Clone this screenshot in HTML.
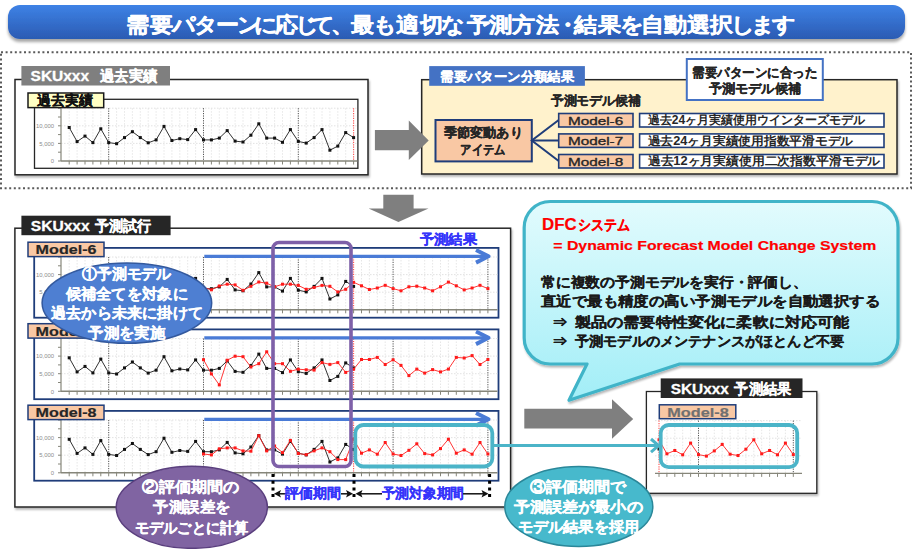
<!DOCTYPE html>
<html lang="ja"><head><meta charset="utf-8"><title>DFC</title>
<style>
html,body{margin:0;padding:0;background:#fff;}
body{width:920px;height:549px;overflow:hidden;font-family:"Liberation Sans",sans-serif;}
svg{display:block;font-family:"Liberation Sans",sans-serif;}
</style></head><body>
<svg width="920" height="549" viewBox="0 0 920 549">
<defs>
<linearGradient id="gTitle" x1="0" y1="0" x2="0" y2="1">
<stop offset="0" stop-color="#3E82E6"/><stop offset="1" stop-color="#2B5BB3"/></linearGradient>
<linearGradient id="gBub" x1="0" y1="0" x2="0" y2="1">
<stop offset="0" stop-color="#E2FBFD"/><stop offset="1" stop-color="#A2EEF7"/></linearGradient>
<filter id="sh" x="-10%" y="-10%" width="130%" height="140%">
<feGaussianBlur in="SourceAlpha" stdDeviation="1"/><feOffset dx="1.2" dy="1.5" result="o"/>
<feComponentTransfer><feFuncA type="linear" slope="0.3"/></feComponentTransfer>
<feMerge><feMergeNode/><feMergeNode in="SourceGraphic"/></feMerge></filter>
<filter id="sh2" x="-10%" y="-20%" width="120%" height="160%">
<feGaussianBlur in="SourceAlpha" stdDeviation="1.5"/><feOffset dx="0" dy="2.5" result="o"/>
<feComponentTransfer><feFuncA type="linear" slope="0.35"/></feComponentTransfer>
<feMerge><feMergeNode/><feMergeNode in="SourceGraphic"/></feMerge></filter>
</defs>

<rect x="8" y="5" width="897" height="34" rx="12" fill="url(#gTitle)" filter="url(#sh2)"/>
<text x="124.64 146.55 167.64 187.64 207.27 226.18 242.27 260.73 279.27 294.09 311.82 330.00 350.00 370.82 392.27 412.27 434.91 455.27 476.36 498.18 516.09 532.36 554.09 574.36 593.27 614.36 635.09 656.36 675.27 693.45 713.09" y="31.9" font-size="21" fill="#fff" font-weight="bold" text-anchor="middle" stroke="#fff" stroke-width="0.38" stroke-linejoin="round" transform="scale(1.1,1)">需要パターンに応じて、最も適切な予測方法・結果を自動選択します</text>
<rect x="1" y="52.2" width="910" height="136" fill="none" stroke="#5a5a5a" stroke-width="2" stroke-dasharray="2 2.6"/>
<rect x="15" y="79.5" width="353" height="95.3" fill="#fff" stroke="#262626" stroke-width="1.5" filter="url(#sh)"/>
<rect x="21.4" y="66" width="148.6" height="19.5" fill="#7F7F7F"/>
<text x="30.6" y="80.9" font-size="14.5" fill="#fff" font-weight="bold" stroke="#fff" stroke-width="0.30" stroke-linejoin="round" textLength="58.5" lengthAdjust="spacingAndGlyphs" >SKUxxx</text>
<text x="99.7" y="80.9" font-size="14.5" fill="#fff" font-weight="bold" stroke="#fff" stroke-width="0.29" stroke-linejoin="round" textLength="57.7" lengthAdjust="spacingAndGlyphs" >過去実績</text>
<rect x="34.5" y="99.3" width="323.4" height="69" fill="#fff" stroke="#262626" stroke-width="1.3"/>
<line x1="61.0" y1="143.4" x2="357.5" y2="143.4" stroke="#dadada" stroke-width="0.8" stroke-dasharray="1.5 1.5"/>
<line x1="61.0" y1="125.8" x2="357.5" y2="125.8" stroke="#dadada" stroke-width="0.8" stroke-dasharray="1.5 1.5"/>
<line x1="61.0" y1="108.2" x2="357.5" y2="108.2" stroke="#dadada" stroke-width="0.8" stroke-dasharray="1.5 1.5"/>
<line x1="69.2" y1="108.2" x2="69.2" y2="161.0" stroke="#e0e0e0" stroke-width="0.8" stroke-dasharray="1.5 1.5"/>
<line x1="77.1" y1="108.2" x2="77.1" y2="161.0" stroke="#e0e0e0" stroke-width="0.8" stroke-dasharray="1.5 1.5"/>
<line x1="85.0" y1="108.2" x2="85.0" y2="161.0" stroke="#e0e0e0" stroke-width="0.8" stroke-dasharray="1.5 1.5"/>
<line x1="92.9" y1="108.2" x2="92.9" y2="161.0" stroke="#e0e0e0" stroke-width="0.8" stroke-dasharray="1.5 1.5"/>
<line x1="100.8" y1="108.2" x2="100.8" y2="161.0" stroke="#e0e0e0" stroke-width="0.8" stroke-dasharray="1.5 1.5"/>
<line x1="108.7" y1="108.2" x2="108.7" y2="161.0" stroke="#404040" stroke-width="0.9" stroke-dasharray="1.2 1.2"/>
<line x1="116.6" y1="108.2" x2="116.6" y2="161.0" stroke="#e0e0e0" stroke-width="0.8" stroke-dasharray="1.5 1.5"/>
<line x1="124.5" y1="108.2" x2="124.5" y2="161.0" stroke="#e0e0e0" stroke-width="0.8" stroke-dasharray="1.5 1.5"/>
<line x1="132.4" y1="108.2" x2="132.4" y2="161.0" stroke="#e0e0e0" stroke-width="0.8" stroke-dasharray="1.5 1.5"/>
<line x1="140.3" y1="108.2" x2="140.3" y2="161.0" stroke="#e0e0e0" stroke-width="0.8" stroke-dasharray="1.5 1.5"/>
<line x1="148.2" y1="108.2" x2="148.2" y2="161.0" stroke="#e0e0e0" stroke-width="0.8" stroke-dasharray="1.5 1.5"/>
<line x1="156.1" y1="108.2" x2="156.1" y2="161.0" stroke="#e0e0e0" stroke-width="0.8" stroke-dasharray="1.5 1.5"/>
<line x1="164.0" y1="108.2" x2="164.0" y2="161.0" stroke="#e0e0e0" stroke-width="0.8" stroke-dasharray="1.5 1.5"/>
<line x1="171.9" y1="108.2" x2="171.9" y2="161.0" stroke="#e0e0e0" stroke-width="0.8" stroke-dasharray="1.5 1.5"/>
<line x1="179.8" y1="108.2" x2="179.8" y2="161.0" stroke="#e0e0e0" stroke-width="0.8" stroke-dasharray="1.5 1.5"/>
<line x1="187.7" y1="108.2" x2="187.7" y2="161.0" stroke="#e0e0e0" stroke-width="0.8" stroke-dasharray="1.5 1.5"/>
<line x1="195.6" y1="108.2" x2="195.6" y2="161.0" stroke="#e0e0e0" stroke-width="0.8" stroke-dasharray="1.5 1.5"/>
<line x1="203.5" y1="108.2" x2="203.5" y2="161.0" stroke="#404040" stroke-width="0.9" stroke-dasharray="1.2 1.2"/>
<line x1="211.4" y1="108.2" x2="211.4" y2="161.0" stroke="#e0e0e0" stroke-width="0.8" stroke-dasharray="1.5 1.5"/>
<line x1="219.3" y1="108.2" x2="219.3" y2="161.0" stroke="#e0e0e0" stroke-width="0.8" stroke-dasharray="1.5 1.5"/>
<line x1="227.2" y1="108.2" x2="227.2" y2="161.0" stroke="#e0e0e0" stroke-width="0.8" stroke-dasharray="1.5 1.5"/>
<line x1="235.1" y1="108.2" x2="235.1" y2="161.0" stroke="#e0e0e0" stroke-width="0.8" stroke-dasharray="1.5 1.5"/>
<line x1="243.0" y1="108.2" x2="243.0" y2="161.0" stroke="#e0e0e0" stroke-width="0.8" stroke-dasharray="1.5 1.5"/>
<line x1="250.9" y1="108.2" x2="250.9" y2="161.0" stroke="#e0e0e0" stroke-width="0.8" stroke-dasharray="1.5 1.5"/>
<line x1="258.8" y1="108.2" x2="258.8" y2="161.0" stroke="#e0e0e0" stroke-width="0.8" stroke-dasharray="1.5 1.5"/>
<line x1="266.7" y1="108.2" x2="266.7" y2="161.0" stroke="#e0e0e0" stroke-width="0.8" stroke-dasharray="1.5 1.5"/>
<line x1="274.6" y1="108.2" x2="274.6" y2="161.0" stroke="#e0e0e0" stroke-width="0.8" stroke-dasharray="1.5 1.5"/>
<line x1="282.5" y1="108.2" x2="282.5" y2="161.0" stroke="#e0e0e0" stroke-width="0.8" stroke-dasharray="1.5 1.5"/>
<line x1="290.4" y1="108.2" x2="290.4" y2="161.0" stroke="#e0e0e0" stroke-width="0.8" stroke-dasharray="1.5 1.5"/>
<line x1="298.3" y1="108.2" x2="298.3" y2="161.0" stroke="#404040" stroke-width="0.9" stroke-dasharray="1.2 1.2"/>
<line x1="306.2" y1="108.2" x2="306.2" y2="161.0" stroke="#e0e0e0" stroke-width="0.8" stroke-dasharray="1.5 1.5"/>
<line x1="314.1" y1="108.2" x2="314.1" y2="161.0" stroke="#e0e0e0" stroke-width="0.8" stroke-dasharray="1.5 1.5"/>
<line x1="322.0" y1="108.2" x2="322.0" y2="161.0" stroke="#e0e0e0" stroke-width="0.8" stroke-dasharray="1.5 1.5"/>
<line x1="329.9" y1="108.2" x2="329.9" y2="161.0" stroke="#e0e0e0" stroke-width="0.8" stroke-dasharray="1.5 1.5"/>
<line x1="337.8" y1="108.2" x2="337.8" y2="161.0" stroke="#e0e0e0" stroke-width="0.8" stroke-dasharray="1.5 1.5"/>
<line x1="345.7" y1="108.2" x2="345.7" y2="161.0" stroke="#e0e0e0" stroke-width="0.8" stroke-dasharray="1.5 1.5"/>
<line x1="353.6" y1="108.2" x2="353.6" y2="161.0" stroke="#ff5050" stroke-width="1.1" stroke-dasharray="1.2 1.2"/>
<line x1="61" y1="108.2" x2="61" y2="161.0" stroke="#86867a" stroke-width="1.2"/>
<line x1="58" y1="161.0" x2="61" y2="161.0" stroke="#86867a" stroke-width="1"/>
<line x1="58" y1="152.2" x2="61" y2="152.2" stroke="#86867a" stroke-width="1"/>
<line x1="58" y1="143.4" x2="61" y2="143.4" stroke="#86867a" stroke-width="1"/>
<line x1="58" y1="134.6" x2="61" y2="134.6" stroke="#86867a" stroke-width="1"/>
<line x1="58" y1="125.8" x2="61" y2="125.8" stroke="#86867a" stroke-width="1"/>
<line x1="58" y1="117.0" x2="61" y2="117.0" stroke="#86867a" stroke-width="1"/>
<line x1="58" y1="108.2" x2="61" y2="108.2" stroke="#86867a" stroke-width="1"/>
<text x="54" y="163.2" font-size="5.9" fill="#8c8c8c" text-anchor="end" font-weight="normal">0</text>
<text x="54" y="145.6" font-size="5.9" fill="#8c8c8c" text-anchor="end" font-weight="normal">5,000</text>
<text x="54" y="128.0" font-size="5.9" fill="#8c8c8c" text-anchor="end" font-weight="normal">10,000</text>
<line x1="61.0" y1="161.0" x2="357.5" y2="161.0" stroke="#86867a" stroke-width="1.4"/>
<line x1="69.2" y1="161.0" x2="69.2" y2="164.5" stroke="#86867a" stroke-width="1"/>
<line x1="77.1" y1="161.0" x2="77.1" y2="164.5" stroke="#86867a" stroke-width="1"/>
<line x1="85.0" y1="161.0" x2="85.0" y2="164.5" stroke="#86867a" stroke-width="1"/>
<line x1="92.9" y1="161.0" x2="92.9" y2="164.5" stroke="#86867a" stroke-width="1"/>
<line x1="100.8" y1="161.0" x2="100.8" y2="164.5" stroke="#86867a" stroke-width="1"/>
<line x1="108.7" y1="161.0" x2="108.7" y2="164.5" stroke="#86867a" stroke-width="1"/>
<line x1="116.6" y1="161.0" x2="116.6" y2="164.5" stroke="#86867a" stroke-width="1"/>
<line x1="124.5" y1="161.0" x2="124.5" y2="164.5" stroke="#86867a" stroke-width="1"/>
<line x1="132.4" y1="161.0" x2="132.4" y2="164.5" stroke="#86867a" stroke-width="1"/>
<line x1="140.3" y1="161.0" x2="140.3" y2="164.5" stroke="#86867a" stroke-width="1"/>
<line x1="148.2" y1="161.0" x2="148.2" y2="164.5" stroke="#86867a" stroke-width="1"/>
<line x1="156.1" y1="161.0" x2="156.1" y2="164.5" stroke="#86867a" stroke-width="1"/>
<line x1="164.0" y1="161.0" x2="164.0" y2="164.5" stroke="#86867a" stroke-width="1"/>
<line x1="171.9" y1="161.0" x2="171.9" y2="164.5" stroke="#86867a" stroke-width="1"/>
<line x1="179.8" y1="161.0" x2="179.8" y2="164.5" stroke="#86867a" stroke-width="1"/>
<line x1="187.7" y1="161.0" x2="187.7" y2="164.5" stroke="#86867a" stroke-width="1"/>
<line x1="195.6" y1="161.0" x2="195.6" y2="164.5" stroke="#86867a" stroke-width="1"/>
<line x1="203.5" y1="161.0" x2="203.5" y2="164.5" stroke="#86867a" stroke-width="1"/>
<line x1="211.4" y1="161.0" x2="211.4" y2="164.5" stroke="#86867a" stroke-width="1"/>
<line x1="219.3" y1="161.0" x2="219.3" y2="164.5" stroke="#86867a" stroke-width="1"/>
<line x1="227.2" y1="161.0" x2="227.2" y2="164.5" stroke="#86867a" stroke-width="1"/>
<line x1="235.1" y1="161.0" x2="235.1" y2="164.5" stroke="#86867a" stroke-width="1"/>
<line x1="243.0" y1="161.0" x2="243.0" y2="164.5" stroke="#86867a" stroke-width="1"/>
<line x1="250.9" y1="161.0" x2="250.9" y2="164.5" stroke="#86867a" stroke-width="1"/>
<line x1="258.8" y1="161.0" x2="258.8" y2="164.5" stroke="#86867a" stroke-width="1"/>
<line x1="266.7" y1="161.0" x2="266.7" y2="164.5" stroke="#86867a" stroke-width="1"/>
<line x1="274.6" y1="161.0" x2="274.6" y2="164.5" stroke="#86867a" stroke-width="1"/>
<line x1="282.5" y1="161.0" x2="282.5" y2="164.5" stroke="#86867a" stroke-width="1"/>
<line x1="290.4" y1="161.0" x2="290.4" y2="164.5" stroke="#86867a" stroke-width="1"/>
<line x1="298.3" y1="161.0" x2="298.3" y2="164.5" stroke="#86867a" stroke-width="1"/>
<line x1="306.2" y1="161.0" x2="306.2" y2="164.5" stroke="#86867a" stroke-width="1"/>
<line x1="314.1" y1="161.0" x2="314.1" y2="164.5" stroke="#86867a" stroke-width="1"/>
<line x1="322.0" y1="161.0" x2="322.0" y2="164.5" stroke="#86867a" stroke-width="1"/>
<line x1="329.9" y1="161.0" x2="329.9" y2="164.5" stroke="#86867a" stroke-width="1"/>
<line x1="337.8" y1="161.0" x2="337.8" y2="164.5" stroke="#86867a" stroke-width="1"/>
<line x1="345.7" y1="161.0" x2="345.7" y2="164.5" stroke="#86867a" stroke-width="1"/>
<line x1="353.6" y1="161.0" x2="353.6" y2="164.5" stroke="#86867a" stroke-width="1"/>
<polyline fill="none" stroke="#1a1a1a" stroke-width="0.9" points="69.2,127.5 77.1,141.6 85.0,136.1 92.9,142.6 100.8,128.8 108.7,142.6 116.6,143.7 124.5,137.6 132.4,131.7 140.3,137.6 148.2,142.8 156.1,139.9 164.0,126.4 171.9,140.5 179.8,138.7 187.7,139.6 195.6,129.6 203.5,139.9 211.4,139.9 219.3,138.1 227.2,130.6 235.1,141.1 243.0,142.0 250.9,135.2 258.8,123.8 266.7,138.1 274.6,138.1 282.5,142.3 290.4,129.6 298.3,141.4 306.2,143.1 314.1,137.6 322.0,129.6 329.9,150.2 337.8,146.1 345.7,132.6 353.6,137.6"/>
<rect x="67.7" y="126.0" width="3" height="3" fill="#111"/>
<rect x="75.6" y="140.1" width="3" height="3" fill="#111"/>
<rect x="83.5" y="134.6" width="3" height="3" fill="#111"/>
<rect x="91.4" y="141.1" width="3" height="3" fill="#111"/>
<rect x="99.3" y="127.3" width="3" height="3" fill="#111"/>
<rect x="107.2" y="141.1" width="3" height="3" fill="#111"/>
<rect x="115.1" y="142.2" width="3" height="3" fill="#111"/>
<rect x="123.0" y="136.1" width="3" height="3" fill="#111"/>
<rect x="130.9" y="130.2" width="3" height="3" fill="#111"/>
<rect x="138.8" y="136.1" width="3" height="3" fill="#111"/>
<rect x="146.7" y="141.3" width="3" height="3" fill="#111"/>
<rect x="154.6" y="138.4" width="3" height="3" fill="#111"/>
<rect x="162.5" y="124.9" width="3" height="3" fill="#111"/>
<rect x="170.4" y="139.0" width="3" height="3" fill="#111"/>
<rect x="178.3" y="137.2" width="3" height="3" fill="#111"/>
<rect x="186.2" y="138.1" width="3" height="3" fill="#111"/>
<rect x="194.1" y="128.1" width="3" height="3" fill="#111"/>
<rect x="202.0" y="138.4" width="3" height="3" fill="#111"/>
<rect x="209.9" y="138.4" width="3" height="3" fill="#111"/>
<rect x="217.8" y="136.6" width="3" height="3" fill="#111"/>
<rect x="225.7" y="129.1" width="3" height="3" fill="#111"/>
<rect x="233.6" y="139.6" width="3" height="3" fill="#111"/>
<rect x="241.5" y="140.5" width="3" height="3" fill="#111"/>
<rect x="249.4" y="133.7" width="3" height="3" fill="#111"/>
<rect x="257.3" y="122.3" width="3" height="3" fill="#111"/>
<rect x="265.2" y="136.6" width="3" height="3" fill="#111"/>
<rect x="273.1" y="136.6" width="3" height="3" fill="#111"/>
<rect x="281.0" y="140.8" width="3" height="3" fill="#111"/>
<rect x="288.9" y="128.1" width="3" height="3" fill="#111"/>
<rect x="296.8" y="139.9" width="3" height="3" fill="#111"/>
<rect x="304.7" y="141.6" width="3" height="3" fill="#111"/>
<rect x="312.6" y="136.1" width="3" height="3" fill="#111"/>
<rect x="320.5" y="128.1" width="3" height="3" fill="#111"/>
<rect x="328.4" y="148.7" width="3" height="3" fill="#111"/>
<rect x="336.3" y="144.6" width="3" height="3" fill="#111"/>
<rect x="344.2" y="131.1" width="3" height="3" fill="#111"/>
<rect x="352.1" y="136.1" width="3" height="3" fill="#111"/>
<rect x="28" y="93" width="75.7" height="14.6" fill="#FFFFC4" stroke="#1a1a1a" stroke-width="1.5"/>
<text x="37.0" y="105.1" font-size="14" fill="#111" font-weight="bold" stroke="#111" stroke-width="0.28" stroke-linejoin="round" textLength="56.0" lengthAdjust="spacingAndGlyphs" >過去実績</text>
<rect x="421.7" y="79.7" width="475.3" height="94.3" fill="#FFF2CC" stroke="#262626" stroke-width="1.5" filter="url(#sh)"/>
<rect x="429.2" y="66.1" width="155.7" height="19.7" fill="#4472C4"/>
<text x="440.3" y="81.0" font-size="13.3" fill="#fff" font-weight="bold" stroke="#fff" stroke-width="0.27" stroke-linejoin="round" textLength="133.7" lengthAdjust="spacingAndGlyphs" >需要パターン分類結果</text>
<text x="550.6" y="104.8" font-size="13" fill="#262626" font-weight="bold" stroke="#262626" stroke-width="0.26" stroke-linejoin="round" textLength="90.4" lengthAdjust="spacingAndGlyphs" >予測モデル候補</text>
<rect x="435.5" y="120" width="96.3" height="41.4" fill="#F9C8A4" stroke="#1F3D7A" stroke-width="2"/>
<text x="443.6" y="136.5" font-size="13.2" fill="#262626" font-weight="bold" stroke="#262626" stroke-width="0.26" stroke-linejoin="round" textLength="79.1" lengthAdjust="spacingAndGlyphs" >季節変動あり</text>
<text x="460.4" y="154.1" font-size="13.2" fill="#262626" font-weight="bold" stroke="#262626" stroke-width="0.26" stroke-linejoin="round" textLength="45.2" lengthAdjust="spacingAndGlyphs" >アイテム</text>
<polyline points="558.7,120 531.8,140.5 558.7,161" fill="none" stroke="#1F3D7A" stroke-width="2"/>
<line x1="531.8" y1="140.5" x2="558.7" y2="140.6" stroke="#1F3D7A" stroke-width="2"/>
<rect x="558.7" y="113.5" width="74.3" height="13.5" fill="#F9C8A4" stroke="#1F3D7A" stroke-width="1.6"/>
<text x="568.0" y="124.7" font-size="11.5" fill="#262626" font-weight="normal" stroke="#262626" stroke-width="0.35" stroke-linejoin="round" textLength="55.2" lengthAdjust="spacingAndGlyphs" >Model-6</text>
<rect x="639.6" y="113.5" width="244.4" height="13.5" fill="#fff" stroke="#1F3D7A" stroke-width="1.6"/>
<text x="647.7" y="124.4" font-size="12" fill="#262626" font-weight="bold" textLength="217.5" lengthAdjust="spacingAndGlyphs" >過去24ヶ月実績使用ウインターズモデル</text>
<rect x="558.7" y="133.9" width="74.3" height="13.5" fill="#F9C8A4" stroke="#1F3D7A" stroke-width="1.6"/>
<text x="568.0" y="145.1" font-size="11.5" fill="#262626" font-weight="normal" stroke="#262626" stroke-width="0.35" stroke-linejoin="round" textLength="55.2" lengthAdjust="spacingAndGlyphs" >Model-7</text>
<rect x="639.6" y="133.9" width="244.4" height="13.5" fill="#fff" stroke="#1F3D7A" stroke-width="1.6"/>
<text x="647.7" y="144.8" font-size="12" fill="#262626" font-weight="bold" textLength="205.4" lengthAdjust="spacingAndGlyphs" >過去24ヶ月実績使用指数平滑モデル</text>
<rect x="558.7" y="154.5" width="74.3" height="13.5" fill="#F9C8A4" stroke="#1F3D7A" stroke-width="1.6"/>
<text x="568.0" y="165.7" font-size="11.5" fill="#262626" font-weight="normal" stroke="#262626" stroke-width="0.35" stroke-linejoin="round" textLength="55.2" lengthAdjust="spacingAndGlyphs" >Model-8</text>
<rect x="639.6" y="154.5" width="244.4" height="13.5" fill="#fff" stroke="#1F3D7A" stroke-width="1.6"/>
<text x="647.7" y="165.4" font-size="12" fill="#262626" font-weight="bold" textLength="232.5" lengthAdjust="spacingAndGlyphs" >過去12ヶ月実績使用二次指数平滑モデル</text>
<polygon points="374.9,130.1 408.8,130.1 408.8,120.4 428.7,140.4 408.8,160 408.8,150.2 374.9,150.2" fill="#7F7F7F"/>
<rect x="686.8" y="59" width="136" height="41" fill="#fff" stroke="#4472C4" stroke-width="2"/>
<text x="692.4" y="76.8" font-size="13" fill="#262626" font-weight="bold" stroke="#262626" stroke-width="0.26" stroke-linejoin="round" textLength="124.9" lengthAdjust="spacingAndGlyphs" >需要パターンに合った</text>
<text x="708.7" y="93.0" font-size="13" fill="#262626" font-weight="bold" stroke="#262626" stroke-width="0.26" stroke-linejoin="round" textLength="92.3" lengthAdjust="spacingAndGlyphs" >予測モデル候補</text>
<polygon points="383.3,194.8 413.6,194.8 413.6,208.6 428.5,208.6 398.4,222.1 368.6,208.6 383.3,208.6" fill="#7F7F7F"/>
<rect x="14.9" y="228.2" width="495.7" height="278.8" fill="#fff" stroke="#262626" stroke-width="1.5" filter="url(#sh)"/>
<rect x="21.4" y="215.7" width="149.2" height="19.5" fill="#262626"/>
<text x="30.8" y="230.9" font-size="14.5" fill="#fff" font-weight="bold" stroke="#fff" stroke-width="0.30" stroke-linejoin="round" textLength="58.8" lengthAdjust="spacingAndGlyphs" >SKUxxx</text>
<text x="95.1" y="230.9" font-size="14.5" fill="#fff" font-weight="bold" stroke="#fff" stroke-width="0.29" stroke-linejoin="round" textLength="56.2" lengthAdjust="spacingAndGlyphs" >予測試行</text>
<text x="419.6" y="243.8" font-size="14" fill="#3535FA" font-weight="bold" stroke="#3535FA" stroke-width="0.28" stroke-linejoin="round" textLength="57.4" lengthAdjust="spacingAndGlyphs" >予測結果</text>
<rect x="34.2" y="247.9" width="464.3" height="69.8" fill="#fff" stroke="#1F3D7A" stroke-width="1.8"/>
<line x1="61.0" y1="292.2" x2="497.5" y2="292.2" stroke="#dadada" stroke-width="0.8" stroke-dasharray="1.5 1.5"/>
<line x1="61.0" y1="274.6" x2="497.5" y2="274.6" stroke="#dadada" stroke-width="0.8" stroke-dasharray="1.5 1.5"/>
<line x1="61.0" y1="257.0" x2="497.5" y2="257.0" stroke="#dadada" stroke-width="0.8" stroke-dasharray="1.5 1.5"/>
<line x1="69.2" y1="257.0" x2="69.2" y2="309.8" stroke="#e0e0e0" stroke-width="0.8" stroke-dasharray="1.5 1.5"/>
<line x1="77.1" y1="257.0" x2="77.1" y2="309.8" stroke="#e0e0e0" stroke-width="0.8" stroke-dasharray="1.5 1.5"/>
<line x1="85.0" y1="257.0" x2="85.0" y2="309.8" stroke="#e0e0e0" stroke-width="0.8" stroke-dasharray="1.5 1.5"/>
<line x1="92.9" y1="257.0" x2="92.9" y2="309.8" stroke="#e0e0e0" stroke-width="0.8" stroke-dasharray="1.5 1.5"/>
<line x1="100.8" y1="257.0" x2="100.8" y2="309.8" stroke="#e0e0e0" stroke-width="0.8" stroke-dasharray="1.5 1.5"/>
<line x1="108.7" y1="257.0" x2="108.7" y2="309.8" stroke="#404040" stroke-width="0.9" stroke-dasharray="1.2 1.2"/>
<line x1="116.6" y1="257.0" x2="116.6" y2="309.8" stroke="#e0e0e0" stroke-width="0.8" stroke-dasharray="1.5 1.5"/>
<line x1="124.5" y1="257.0" x2="124.5" y2="309.8" stroke="#e0e0e0" stroke-width="0.8" stroke-dasharray="1.5 1.5"/>
<line x1="132.4" y1="257.0" x2="132.4" y2="309.8" stroke="#e0e0e0" stroke-width="0.8" stroke-dasharray="1.5 1.5"/>
<line x1="140.3" y1="257.0" x2="140.3" y2="309.8" stroke="#e0e0e0" stroke-width="0.8" stroke-dasharray="1.5 1.5"/>
<line x1="148.2" y1="257.0" x2="148.2" y2="309.8" stroke="#e0e0e0" stroke-width="0.8" stroke-dasharray="1.5 1.5"/>
<line x1="156.1" y1="257.0" x2="156.1" y2="309.8" stroke="#e0e0e0" stroke-width="0.8" stroke-dasharray="1.5 1.5"/>
<line x1="164.0" y1="257.0" x2="164.0" y2="309.8" stroke="#e0e0e0" stroke-width="0.8" stroke-dasharray="1.5 1.5"/>
<line x1="171.9" y1="257.0" x2="171.9" y2="309.8" stroke="#e0e0e0" stroke-width="0.8" stroke-dasharray="1.5 1.5"/>
<line x1="179.8" y1="257.0" x2="179.8" y2="309.8" stroke="#e0e0e0" stroke-width="0.8" stroke-dasharray="1.5 1.5"/>
<line x1="187.7" y1="257.0" x2="187.7" y2="309.8" stroke="#e0e0e0" stroke-width="0.8" stroke-dasharray="1.5 1.5"/>
<line x1="195.6" y1="257.0" x2="195.6" y2="309.8" stroke="#e0e0e0" stroke-width="0.8" stroke-dasharray="1.5 1.5"/>
<line x1="203.5" y1="257.0" x2="203.5" y2="309.8" stroke="#404040" stroke-width="0.9" stroke-dasharray="1.2 1.2"/>
<line x1="211.4" y1="257.0" x2="211.4" y2="309.8" stroke="#e0e0e0" stroke-width="0.8" stroke-dasharray="1.5 1.5"/>
<line x1="219.3" y1="257.0" x2="219.3" y2="309.8" stroke="#e0e0e0" stroke-width="0.8" stroke-dasharray="1.5 1.5"/>
<line x1="227.2" y1="257.0" x2="227.2" y2="309.8" stroke="#e0e0e0" stroke-width="0.8" stroke-dasharray="1.5 1.5"/>
<line x1="235.1" y1="257.0" x2="235.1" y2="309.8" stroke="#e0e0e0" stroke-width="0.8" stroke-dasharray="1.5 1.5"/>
<line x1="243.0" y1="257.0" x2="243.0" y2="309.8" stroke="#e0e0e0" stroke-width="0.8" stroke-dasharray="1.5 1.5"/>
<line x1="250.9" y1="257.0" x2="250.9" y2="309.8" stroke="#e0e0e0" stroke-width="0.8" stroke-dasharray="1.5 1.5"/>
<line x1="258.8" y1="257.0" x2="258.8" y2="309.8" stroke="#e0e0e0" stroke-width="0.8" stroke-dasharray="1.5 1.5"/>
<line x1="266.7" y1="257.0" x2="266.7" y2="309.8" stroke="#e0e0e0" stroke-width="0.8" stroke-dasharray="1.5 1.5"/>
<line x1="274.6" y1="257.0" x2="274.6" y2="309.8" stroke="#e0e0e0" stroke-width="0.8" stroke-dasharray="1.5 1.5"/>
<line x1="282.5" y1="257.0" x2="282.5" y2="309.8" stroke="#e0e0e0" stroke-width="0.8" stroke-dasharray="1.5 1.5"/>
<line x1="290.4" y1="257.0" x2="290.4" y2="309.8" stroke="#e0e0e0" stroke-width="0.8" stroke-dasharray="1.5 1.5"/>
<line x1="298.3" y1="257.0" x2="298.3" y2="309.8" stroke="#404040" stroke-width="0.9" stroke-dasharray="1.2 1.2"/>
<line x1="306.2" y1="257.0" x2="306.2" y2="309.8" stroke="#e0e0e0" stroke-width="0.8" stroke-dasharray="1.5 1.5"/>
<line x1="314.1" y1="257.0" x2="314.1" y2="309.8" stroke="#e0e0e0" stroke-width="0.8" stroke-dasharray="1.5 1.5"/>
<line x1="322.0" y1="257.0" x2="322.0" y2="309.8" stroke="#e0e0e0" stroke-width="0.8" stroke-dasharray="1.5 1.5"/>
<line x1="329.9" y1="257.0" x2="329.9" y2="309.8" stroke="#e0e0e0" stroke-width="0.8" stroke-dasharray="1.5 1.5"/>
<line x1="337.8" y1="257.0" x2="337.8" y2="309.8" stroke="#e0e0e0" stroke-width="0.8" stroke-dasharray="1.5 1.5"/>
<line x1="345.7" y1="257.0" x2="345.7" y2="309.8" stroke="#e0e0e0" stroke-width="0.8" stroke-dasharray="1.5 1.5"/>
<line x1="353.6" y1="257.0" x2="353.6" y2="309.8" stroke="#ff5050" stroke-width="1.1" stroke-dasharray="1.2 1.2"/>
<line x1="361.5" y1="257.0" x2="361.5" y2="309.8" stroke="#e0e0e0" stroke-width="0.8" stroke-dasharray="1.5 1.5"/>
<line x1="369.4" y1="257.0" x2="369.4" y2="309.8" stroke="#e0e0e0" stroke-width="0.8" stroke-dasharray="1.5 1.5"/>
<line x1="377.3" y1="257.0" x2="377.3" y2="309.8" stroke="#e0e0e0" stroke-width="0.8" stroke-dasharray="1.5 1.5"/>
<line x1="385.2" y1="257.0" x2="385.2" y2="309.8" stroke="#e0e0e0" stroke-width="0.8" stroke-dasharray="1.5 1.5"/>
<line x1="393.1" y1="257.0" x2="393.1" y2="309.8" stroke="#404040" stroke-width="0.9" stroke-dasharray="1.2 1.2"/>
<line x1="401.0" y1="257.0" x2="401.0" y2="309.8" stroke="#e0e0e0" stroke-width="0.8" stroke-dasharray="1.5 1.5"/>
<line x1="408.9" y1="257.0" x2="408.9" y2="309.8" stroke="#e0e0e0" stroke-width="0.8" stroke-dasharray="1.5 1.5"/>
<line x1="416.8" y1="257.0" x2="416.8" y2="309.8" stroke="#e0e0e0" stroke-width="0.8" stroke-dasharray="1.5 1.5"/>
<line x1="424.7" y1="257.0" x2="424.7" y2="309.8" stroke="#e0e0e0" stroke-width="0.8" stroke-dasharray="1.5 1.5"/>
<line x1="432.6" y1="257.0" x2="432.6" y2="309.8" stroke="#e0e0e0" stroke-width="0.8" stroke-dasharray="1.5 1.5"/>
<line x1="440.5" y1="257.0" x2="440.5" y2="309.8" stroke="#e0e0e0" stroke-width="0.8" stroke-dasharray="1.5 1.5"/>
<line x1="448.4" y1="257.0" x2="448.4" y2="309.8" stroke="#e0e0e0" stroke-width="0.8" stroke-dasharray="1.5 1.5"/>
<line x1="456.3" y1="257.0" x2="456.3" y2="309.8" stroke="#e0e0e0" stroke-width="0.8" stroke-dasharray="1.5 1.5"/>
<line x1="464.2" y1="257.0" x2="464.2" y2="309.8" stroke="#e0e0e0" stroke-width="0.8" stroke-dasharray="1.5 1.5"/>
<line x1="472.1" y1="257.0" x2="472.1" y2="309.8" stroke="#e0e0e0" stroke-width="0.8" stroke-dasharray="1.5 1.5"/>
<line x1="480.0" y1="257.0" x2="480.0" y2="309.8" stroke="#e0e0e0" stroke-width="0.8" stroke-dasharray="1.5 1.5"/>
<line x1="487.9" y1="257.0" x2="487.9" y2="309.8" stroke="#404040" stroke-width="0.9" stroke-dasharray="1.2 1.2"/>
<line x1="61" y1="257.0" x2="61" y2="309.8" stroke="#86867a" stroke-width="1.2"/>
<line x1="58" y1="309.8" x2="61" y2="309.8" stroke="#86867a" stroke-width="1"/>
<line x1="58" y1="301.0" x2="61" y2="301.0" stroke="#86867a" stroke-width="1"/>
<line x1="58" y1="292.2" x2="61" y2="292.2" stroke="#86867a" stroke-width="1"/>
<line x1="58" y1="283.4" x2="61" y2="283.4" stroke="#86867a" stroke-width="1"/>
<line x1="58" y1="274.6" x2="61" y2="274.6" stroke="#86867a" stroke-width="1"/>
<line x1="58" y1="265.8" x2="61" y2="265.8" stroke="#86867a" stroke-width="1"/>
<line x1="58" y1="257.0" x2="61" y2="257.0" stroke="#86867a" stroke-width="1"/>
<text x="54" y="312.0" font-size="5.9" fill="#8c8c8c" text-anchor="end" font-weight="normal">0</text>
<text x="54" y="294.4" font-size="5.9" fill="#8c8c8c" text-anchor="end" font-weight="normal">5,000</text>
<text x="54" y="276.8" font-size="5.9" fill="#8c8c8c" text-anchor="end" font-weight="normal">10,000</text>
<line x1="61.0" y1="309.8" x2="497.5" y2="309.8" stroke="#86867a" stroke-width="1.4"/>
<line x1="69.2" y1="309.8" x2="69.2" y2="313.3" stroke="#86867a" stroke-width="1"/>
<line x1="77.1" y1="309.8" x2="77.1" y2="313.3" stroke="#86867a" stroke-width="1"/>
<line x1="85.0" y1="309.8" x2="85.0" y2="313.3" stroke="#86867a" stroke-width="1"/>
<line x1="92.9" y1="309.8" x2="92.9" y2="313.3" stroke="#86867a" stroke-width="1"/>
<line x1="100.8" y1="309.8" x2="100.8" y2="313.3" stroke="#86867a" stroke-width="1"/>
<line x1="108.7" y1="309.8" x2="108.7" y2="313.3" stroke="#86867a" stroke-width="1"/>
<line x1="116.6" y1="309.8" x2="116.6" y2="313.3" stroke="#86867a" stroke-width="1"/>
<line x1="124.5" y1="309.8" x2="124.5" y2="313.3" stroke="#86867a" stroke-width="1"/>
<line x1="132.4" y1="309.8" x2="132.4" y2="313.3" stroke="#86867a" stroke-width="1"/>
<line x1="140.3" y1="309.8" x2="140.3" y2="313.3" stroke="#86867a" stroke-width="1"/>
<line x1="148.2" y1="309.8" x2="148.2" y2="313.3" stroke="#86867a" stroke-width="1"/>
<line x1="156.1" y1="309.8" x2="156.1" y2="313.3" stroke="#86867a" stroke-width="1"/>
<line x1="164.0" y1="309.8" x2="164.0" y2="313.3" stroke="#86867a" stroke-width="1"/>
<line x1="171.9" y1="309.8" x2="171.9" y2="313.3" stroke="#86867a" stroke-width="1"/>
<line x1="179.8" y1="309.8" x2="179.8" y2="313.3" stroke="#86867a" stroke-width="1"/>
<line x1="187.7" y1="309.8" x2="187.7" y2="313.3" stroke="#86867a" stroke-width="1"/>
<line x1="195.6" y1="309.8" x2="195.6" y2="313.3" stroke="#86867a" stroke-width="1"/>
<line x1="203.5" y1="309.8" x2="203.5" y2="313.3" stroke="#86867a" stroke-width="1"/>
<line x1="211.4" y1="309.8" x2="211.4" y2="313.3" stroke="#86867a" stroke-width="1"/>
<line x1="219.3" y1="309.8" x2="219.3" y2="313.3" stroke="#86867a" stroke-width="1"/>
<line x1="227.2" y1="309.8" x2="227.2" y2="313.3" stroke="#86867a" stroke-width="1"/>
<line x1="235.1" y1="309.8" x2="235.1" y2="313.3" stroke="#86867a" stroke-width="1"/>
<line x1="243.0" y1="309.8" x2="243.0" y2="313.3" stroke="#86867a" stroke-width="1"/>
<line x1="250.9" y1="309.8" x2="250.9" y2="313.3" stroke="#86867a" stroke-width="1"/>
<line x1="258.8" y1="309.8" x2="258.8" y2="313.3" stroke="#86867a" stroke-width="1"/>
<line x1="266.7" y1="309.8" x2="266.7" y2="313.3" stroke="#86867a" stroke-width="1"/>
<line x1="274.6" y1="309.8" x2="274.6" y2="313.3" stroke="#86867a" stroke-width="1"/>
<line x1="282.5" y1="309.8" x2="282.5" y2="313.3" stroke="#86867a" stroke-width="1"/>
<line x1="290.4" y1="309.8" x2="290.4" y2="313.3" stroke="#86867a" stroke-width="1"/>
<line x1="298.3" y1="309.8" x2="298.3" y2="313.3" stroke="#86867a" stroke-width="1"/>
<line x1="306.2" y1="309.8" x2="306.2" y2="313.3" stroke="#86867a" stroke-width="1"/>
<line x1="314.1" y1="309.8" x2="314.1" y2="313.3" stroke="#86867a" stroke-width="1"/>
<line x1="322.0" y1="309.8" x2="322.0" y2="313.3" stroke="#86867a" stroke-width="1"/>
<line x1="329.9" y1="309.8" x2="329.9" y2="313.3" stroke="#86867a" stroke-width="1"/>
<line x1="337.8" y1="309.8" x2="337.8" y2="313.3" stroke="#86867a" stroke-width="1"/>
<line x1="345.7" y1="309.8" x2="345.7" y2="313.3" stroke="#86867a" stroke-width="1"/>
<line x1="353.6" y1="309.8" x2="353.6" y2="313.3" stroke="#86867a" stroke-width="1"/>
<line x1="361.5" y1="309.8" x2="361.5" y2="313.3" stroke="#86867a" stroke-width="1"/>
<line x1="369.4" y1="309.8" x2="369.4" y2="313.3" stroke="#86867a" stroke-width="1"/>
<line x1="377.3" y1="309.8" x2="377.3" y2="313.3" stroke="#86867a" stroke-width="1"/>
<line x1="385.2" y1="309.8" x2="385.2" y2="313.3" stroke="#86867a" stroke-width="1"/>
<line x1="393.1" y1="309.8" x2="393.1" y2="313.3" stroke="#86867a" stroke-width="1"/>
<line x1="401.0" y1="309.8" x2="401.0" y2="313.3" stroke="#86867a" stroke-width="1"/>
<line x1="408.9" y1="309.8" x2="408.9" y2="313.3" stroke="#86867a" stroke-width="1"/>
<line x1="416.8" y1="309.8" x2="416.8" y2="313.3" stroke="#86867a" stroke-width="1"/>
<line x1="424.7" y1="309.8" x2="424.7" y2="313.3" stroke="#86867a" stroke-width="1"/>
<line x1="432.6" y1="309.8" x2="432.6" y2="313.3" stroke="#86867a" stroke-width="1"/>
<line x1="440.5" y1="309.8" x2="440.5" y2="313.3" stroke="#86867a" stroke-width="1"/>
<line x1="448.4" y1="309.8" x2="448.4" y2="313.3" stroke="#86867a" stroke-width="1"/>
<line x1="456.3" y1="309.8" x2="456.3" y2="313.3" stroke="#86867a" stroke-width="1"/>
<line x1="464.2" y1="309.8" x2="464.2" y2="313.3" stroke="#86867a" stroke-width="1"/>
<line x1="472.1" y1="309.8" x2="472.1" y2="313.3" stroke="#86867a" stroke-width="1"/>
<line x1="480.0" y1="309.8" x2="480.0" y2="313.3" stroke="#86867a" stroke-width="1"/>
<line x1="487.9" y1="309.8" x2="487.9" y2="313.3" stroke="#86867a" stroke-width="1"/>
<polyline fill="none" stroke="#1a1a1a" stroke-width="0.9" points="69.2,276.3 77.1,290.4 85.0,284.9 92.9,291.4 100.8,277.6 108.7,291.4 116.6,292.5 124.5,286.4 132.4,280.5 140.3,286.4 148.2,291.6 156.1,288.7 164.0,275.2 171.9,289.3 179.8,287.5 187.7,288.4 195.6,278.4 203.5,288.7 211.4,288.7 219.3,286.9 227.2,279.4 235.1,289.9 243.0,290.8 250.9,284.0 258.8,272.6 266.7,286.9 274.6,286.9 282.5,291.1 290.4,278.4 298.3,290.2 306.2,291.9 314.1,286.4 322.0,278.4 329.9,299.0 337.8,294.9 345.7,281.4 353.6,286.4"/>
<rect x="67.7" y="274.8" width="3" height="3" fill="#111"/>
<rect x="75.6" y="288.9" width="3" height="3" fill="#111"/>
<rect x="83.5" y="283.4" width="3" height="3" fill="#111"/>
<rect x="91.4" y="289.9" width="3" height="3" fill="#111"/>
<rect x="99.3" y="276.1" width="3" height="3" fill="#111"/>
<rect x="107.2" y="289.9" width="3" height="3" fill="#111"/>
<rect x="115.1" y="291.0" width="3" height="3" fill="#111"/>
<rect x="123.0" y="284.9" width="3" height="3" fill="#111"/>
<rect x="130.9" y="279.0" width="3" height="3" fill="#111"/>
<rect x="138.8" y="284.9" width="3" height="3" fill="#111"/>
<rect x="146.7" y="290.1" width="3" height="3" fill="#111"/>
<rect x="154.6" y="287.2" width="3" height="3" fill="#111"/>
<rect x="162.5" y="273.7" width="3" height="3" fill="#111"/>
<rect x="170.4" y="287.8" width="3" height="3" fill="#111"/>
<rect x="178.3" y="286.0" width="3" height="3" fill="#111"/>
<rect x="186.2" y="286.9" width="3" height="3" fill="#111"/>
<rect x="194.1" y="276.9" width="3" height="3" fill="#111"/>
<rect x="202.0" y="287.2" width="3" height="3" fill="#111"/>
<rect x="209.9" y="287.2" width="3" height="3" fill="#111"/>
<rect x="217.8" y="285.4" width="3" height="3" fill="#111"/>
<rect x="225.7" y="277.9" width="3" height="3" fill="#111"/>
<rect x="233.6" y="288.4" width="3" height="3" fill="#111"/>
<rect x="241.5" y="289.3" width="3" height="3" fill="#111"/>
<rect x="249.4" y="282.5" width="3" height="3" fill="#111"/>
<rect x="257.3" y="271.1" width="3" height="3" fill="#111"/>
<rect x="265.2" y="285.4" width="3" height="3" fill="#111"/>
<rect x="273.1" y="285.4" width="3" height="3" fill="#111"/>
<rect x="281.0" y="289.6" width="3" height="3" fill="#111"/>
<rect x="288.9" y="276.9" width="3" height="3" fill="#111"/>
<rect x="296.8" y="288.7" width="3" height="3" fill="#111"/>
<rect x="304.7" y="290.4" width="3" height="3" fill="#111"/>
<rect x="312.6" y="284.9" width="3" height="3" fill="#111"/>
<rect x="320.5" y="276.9" width="3" height="3" fill="#111"/>
<rect x="328.4" y="297.5" width="3" height="3" fill="#111"/>
<rect x="336.3" y="293.4" width="3" height="3" fill="#111"/>
<rect x="344.2" y="279.9" width="3" height="3" fill="#111"/>
<rect x="352.1" y="284.9" width="3" height="3" fill="#111"/>
<polyline fill="none" stroke="#ff2020" stroke-width="0.9" points="203.5,287.4 211.4,289.8 219.3,286.0 227.2,284.2 235.1,284.9 243.0,290.3 250.9,286.3 258.8,282.0 266.7,283.2 274.6,286.8 282.5,284.2 290.4,284.2 298.3,285.4 306.2,289.3 314.1,287.5 322.0,285.4 329.9,286.3 337.8,291.9 345.7,289.3 353.6,282.3 361.5,285.8 369.4,289.5 377.3,288.0 385.2,285.3 393.1,288.6 401.0,290.8 408.9,286.8 416.8,286.2 424.7,288.0 432.6,290.8 440.5,286.8 448.4,282.1 456.3,285.8 464.2,289.9 472.1,288.0 480.0,285.3 487.9,288.6"/>
<rect x="202.0" y="285.9" width="3" height="3" fill="#ff1a1a"/>
<rect x="209.9" y="288.3" width="3" height="3" fill="#ff1a1a"/>
<rect x="217.8" y="284.5" width="3" height="3" fill="#ff1a1a"/>
<rect x="225.7" y="282.7" width="3" height="3" fill="#ff1a1a"/>
<rect x="233.6" y="283.4" width="3" height="3" fill="#ff1a1a"/>
<rect x="241.5" y="288.8" width="3" height="3" fill="#ff1a1a"/>
<rect x="249.4" y="284.8" width="3" height="3" fill="#ff1a1a"/>
<rect x="257.3" y="280.5" width="3" height="3" fill="#ff1a1a"/>
<rect x="265.2" y="281.7" width="3" height="3" fill="#ff1a1a"/>
<rect x="273.1" y="285.3" width="3" height="3" fill="#ff1a1a"/>
<rect x="281.0" y="282.7" width="3" height="3" fill="#ff1a1a"/>
<rect x="288.9" y="282.7" width="3" height="3" fill="#ff1a1a"/>
<rect x="296.8" y="283.9" width="3" height="3" fill="#ff1a1a"/>
<rect x="304.7" y="287.8" width="3" height="3" fill="#ff1a1a"/>
<rect x="312.6" y="286.0" width="3" height="3" fill="#ff1a1a"/>
<rect x="320.5" y="283.9" width="3" height="3" fill="#ff1a1a"/>
<rect x="328.4" y="284.8" width="3" height="3" fill="#ff1a1a"/>
<rect x="336.3" y="290.4" width="3" height="3" fill="#ff1a1a"/>
<rect x="344.2" y="287.8" width="3" height="3" fill="#ff1a1a"/>
<rect x="352.1" y="280.8" width="3" height="3" fill="#ff1a1a"/>
<rect x="360.0" y="284.3" width="3" height="3" fill="#ff1a1a"/>
<rect x="367.9" y="288.0" width="3" height="3" fill="#ff1a1a"/>
<rect x="375.8" y="286.5" width="3" height="3" fill="#ff1a1a"/>
<rect x="383.7" y="283.8" width="3" height="3" fill="#ff1a1a"/>
<rect x="391.6" y="287.1" width="3" height="3" fill="#ff1a1a"/>
<rect x="399.5" y="289.3" width="3" height="3" fill="#ff1a1a"/>
<rect x="407.4" y="285.3" width="3" height="3" fill="#ff1a1a"/>
<rect x="415.3" y="284.7" width="3" height="3" fill="#ff1a1a"/>
<rect x="423.2" y="286.5" width="3" height="3" fill="#ff1a1a"/>
<rect x="431.1" y="289.3" width="3" height="3" fill="#ff1a1a"/>
<rect x="439.0" y="285.3" width="3" height="3" fill="#ff1a1a"/>
<rect x="446.9" y="280.6" width="3" height="3" fill="#ff1a1a"/>
<rect x="454.8" y="284.3" width="3" height="3" fill="#ff1a1a"/>
<rect x="462.7" y="288.4" width="3" height="3" fill="#ff1a1a"/>
<rect x="470.6" y="286.5" width="3" height="3" fill="#ff1a1a"/>
<rect x="478.5" y="283.8" width="3" height="3" fill="#ff1a1a"/>
<rect x="486.4" y="287.1" width="3" height="3" fill="#ff1a1a"/>
<rect x="28" y="242.2" width="76" height="14.4" fill="#F9C8A4" stroke="#1F3D7A" stroke-width="1.5"/>
<text x="35.6" y="254.2" font-size="13.5" fill="#262626" font-weight="bold" stroke="#262626" stroke-width="0.20" stroke-linejoin="round" textLength="61.0" lengthAdjust="spacingAndGlyphs" >Model-6</text>
<line x1="204.3" y1="256.3" x2="487" y2="256.3" stroke="#4A7BD6" stroke-width="3.3"/>
<polyline points="476,250.0 488.5,256.3 476,262.6" fill="none" stroke="#4A7BD6" stroke-width="4" stroke-linejoin="round"/>
<rect x="34.2" y="329.4" width="464.3" height="69.8" fill="#fff" stroke="#1F3D7A" stroke-width="1.8"/>
<line x1="61.0" y1="373.7" x2="497.5" y2="373.7" stroke="#dadada" stroke-width="0.8" stroke-dasharray="1.5 1.5"/>
<line x1="61.0" y1="356.1" x2="497.5" y2="356.1" stroke="#dadada" stroke-width="0.8" stroke-dasharray="1.5 1.5"/>
<line x1="61.0" y1="338.5" x2="497.5" y2="338.5" stroke="#dadada" stroke-width="0.8" stroke-dasharray="1.5 1.5"/>
<line x1="69.2" y1="338.5" x2="69.2" y2="391.3" stroke="#e0e0e0" stroke-width="0.8" stroke-dasharray="1.5 1.5"/>
<line x1="77.1" y1="338.5" x2="77.1" y2="391.3" stroke="#e0e0e0" stroke-width="0.8" stroke-dasharray="1.5 1.5"/>
<line x1="85.0" y1="338.5" x2="85.0" y2="391.3" stroke="#e0e0e0" stroke-width="0.8" stroke-dasharray="1.5 1.5"/>
<line x1="92.9" y1="338.5" x2="92.9" y2="391.3" stroke="#e0e0e0" stroke-width="0.8" stroke-dasharray="1.5 1.5"/>
<line x1="100.8" y1="338.5" x2="100.8" y2="391.3" stroke="#e0e0e0" stroke-width="0.8" stroke-dasharray="1.5 1.5"/>
<line x1="108.7" y1="338.5" x2="108.7" y2="391.3" stroke="#404040" stroke-width="0.9" stroke-dasharray="1.2 1.2"/>
<line x1="116.6" y1="338.5" x2="116.6" y2="391.3" stroke="#e0e0e0" stroke-width="0.8" stroke-dasharray="1.5 1.5"/>
<line x1="124.5" y1="338.5" x2="124.5" y2="391.3" stroke="#e0e0e0" stroke-width="0.8" stroke-dasharray="1.5 1.5"/>
<line x1="132.4" y1="338.5" x2="132.4" y2="391.3" stroke="#e0e0e0" stroke-width="0.8" stroke-dasharray="1.5 1.5"/>
<line x1="140.3" y1="338.5" x2="140.3" y2="391.3" stroke="#e0e0e0" stroke-width="0.8" stroke-dasharray="1.5 1.5"/>
<line x1="148.2" y1="338.5" x2="148.2" y2="391.3" stroke="#e0e0e0" stroke-width="0.8" stroke-dasharray="1.5 1.5"/>
<line x1="156.1" y1="338.5" x2="156.1" y2="391.3" stroke="#e0e0e0" stroke-width="0.8" stroke-dasharray="1.5 1.5"/>
<line x1="164.0" y1="338.5" x2="164.0" y2="391.3" stroke="#e0e0e0" stroke-width="0.8" stroke-dasharray="1.5 1.5"/>
<line x1="171.9" y1="338.5" x2="171.9" y2="391.3" stroke="#e0e0e0" stroke-width="0.8" stroke-dasharray="1.5 1.5"/>
<line x1="179.8" y1="338.5" x2="179.8" y2="391.3" stroke="#e0e0e0" stroke-width="0.8" stroke-dasharray="1.5 1.5"/>
<line x1="187.7" y1="338.5" x2="187.7" y2="391.3" stroke="#e0e0e0" stroke-width="0.8" stroke-dasharray="1.5 1.5"/>
<line x1="195.6" y1="338.5" x2="195.6" y2="391.3" stroke="#e0e0e0" stroke-width="0.8" stroke-dasharray="1.5 1.5"/>
<line x1="203.5" y1="338.5" x2="203.5" y2="391.3" stroke="#404040" stroke-width="0.9" stroke-dasharray="1.2 1.2"/>
<line x1="211.4" y1="338.5" x2="211.4" y2="391.3" stroke="#e0e0e0" stroke-width="0.8" stroke-dasharray="1.5 1.5"/>
<line x1="219.3" y1="338.5" x2="219.3" y2="391.3" stroke="#e0e0e0" stroke-width="0.8" stroke-dasharray="1.5 1.5"/>
<line x1="227.2" y1="338.5" x2="227.2" y2="391.3" stroke="#e0e0e0" stroke-width="0.8" stroke-dasharray="1.5 1.5"/>
<line x1="235.1" y1="338.5" x2="235.1" y2="391.3" stroke="#e0e0e0" stroke-width="0.8" stroke-dasharray="1.5 1.5"/>
<line x1="243.0" y1="338.5" x2="243.0" y2="391.3" stroke="#e0e0e0" stroke-width="0.8" stroke-dasharray="1.5 1.5"/>
<line x1="250.9" y1="338.5" x2="250.9" y2="391.3" stroke="#e0e0e0" stroke-width="0.8" stroke-dasharray="1.5 1.5"/>
<line x1="258.8" y1="338.5" x2="258.8" y2="391.3" stroke="#e0e0e0" stroke-width="0.8" stroke-dasharray="1.5 1.5"/>
<line x1="266.7" y1="338.5" x2="266.7" y2="391.3" stroke="#e0e0e0" stroke-width="0.8" stroke-dasharray="1.5 1.5"/>
<line x1="274.6" y1="338.5" x2="274.6" y2="391.3" stroke="#e0e0e0" stroke-width="0.8" stroke-dasharray="1.5 1.5"/>
<line x1="282.5" y1="338.5" x2="282.5" y2="391.3" stroke="#e0e0e0" stroke-width="0.8" stroke-dasharray="1.5 1.5"/>
<line x1="290.4" y1="338.5" x2="290.4" y2="391.3" stroke="#e0e0e0" stroke-width="0.8" stroke-dasharray="1.5 1.5"/>
<line x1="298.3" y1="338.5" x2="298.3" y2="391.3" stroke="#404040" stroke-width="0.9" stroke-dasharray="1.2 1.2"/>
<line x1="306.2" y1="338.5" x2="306.2" y2="391.3" stroke="#e0e0e0" stroke-width="0.8" stroke-dasharray="1.5 1.5"/>
<line x1="314.1" y1="338.5" x2="314.1" y2="391.3" stroke="#e0e0e0" stroke-width="0.8" stroke-dasharray="1.5 1.5"/>
<line x1="322.0" y1="338.5" x2="322.0" y2="391.3" stroke="#e0e0e0" stroke-width="0.8" stroke-dasharray="1.5 1.5"/>
<line x1="329.9" y1="338.5" x2="329.9" y2="391.3" stroke="#e0e0e0" stroke-width="0.8" stroke-dasharray="1.5 1.5"/>
<line x1="337.8" y1="338.5" x2="337.8" y2="391.3" stroke="#e0e0e0" stroke-width="0.8" stroke-dasharray="1.5 1.5"/>
<line x1="345.7" y1="338.5" x2="345.7" y2="391.3" stroke="#e0e0e0" stroke-width="0.8" stroke-dasharray="1.5 1.5"/>
<line x1="353.6" y1="338.5" x2="353.6" y2="391.3" stroke="#ff5050" stroke-width="1.1" stroke-dasharray="1.2 1.2"/>
<line x1="361.5" y1="338.5" x2="361.5" y2="391.3" stroke="#e0e0e0" stroke-width="0.8" stroke-dasharray="1.5 1.5"/>
<line x1="369.4" y1="338.5" x2="369.4" y2="391.3" stroke="#e0e0e0" stroke-width="0.8" stroke-dasharray="1.5 1.5"/>
<line x1="377.3" y1="338.5" x2="377.3" y2="391.3" stroke="#e0e0e0" stroke-width="0.8" stroke-dasharray="1.5 1.5"/>
<line x1="385.2" y1="338.5" x2="385.2" y2="391.3" stroke="#e0e0e0" stroke-width="0.8" stroke-dasharray="1.5 1.5"/>
<line x1="393.1" y1="338.5" x2="393.1" y2="391.3" stroke="#404040" stroke-width="0.9" stroke-dasharray="1.2 1.2"/>
<line x1="401.0" y1="338.5" x2="401.0" y2="391.3" stroke="#e0e0e0" stroke-width="0.8" stroke-dasharray="1.5 1.5"/>
<line x1="408.9" y1="338.5" x2="408.9" y2="391.3" stroke="#e0e0e0" stroke-width="0.8" stroke-dasharray="1.5 1.5"/>
<line x1="416.8" y1="338.5" x2="416.8" y2="391.3" stroke="#e0e0e0" stroke-width="0.8" stroke-dasharray="1.5 1.5"/>
<line x1="424.7" y1="338.5" x2="424.7" y2="391.3" stroke="#e0e0e0" stroke-width="0.8" stroke-dasharray="1.5 1.5"/>
<line x1="432.6" y1="338.5" x2="432.6" y2="391.3" stroke="#e0e0e0" stroke-width="0.8" stroke-dasharray="1.5 1.5"/>
<line x1="440.5" y1="338.5" x2="440.5" y2="391.3" stroke="#e0e0e0" stroke-width="0.8" stroke-dasharray="1.5 1.5"/>
<line x1="448.4" y1="338.5" x2="448.4" y2="391.3" stroke="#e0e0e0" stroke-width="0.8" stroke-dasharray="1.5 1.5"/>
<line x1="456.3" y1="338.5" x2="456.3" y2="391.3" stroke="#e0e0e0" stroke-width="0.8" stroke-dasharray="1.5 1.5"/>
<line x1="464.2" y1="338.5" x2="464.2" y2="391.3" stroke="#e0e0e0" stroke-width="0.8" stroke-dasharray="1.5 1.5"/>
<line x1="472.1" y1="338.5" x2="472.1" y2="391.3" stroke="#e0e0e0" stroke-width="0.8" stroke-dasharray="1.5 1.5"/>
<line x1="480.0" y1="338.5" x2="480.0" y2="391.3" stroke="#e0e0e0" stroke-width="0.8" stroke-dasharray="1.5 1.5"/>
<line x1="487.9" y1="338.5" x2="487.9" y2="391.3" stroke="#404040" stroke-width="0.9" stroke-dasharray="1.2 1.2"/>
<line x1="61" y1="338.5" x2="61" y2="391.3" stroke="#86867a" stroke-width="1.2"/>
<line x1="58" y1="391.3" x2="61" y2="391.3" stroke="#86867a" stroke-width="1"/>
<line x1="58" y1="382.5" x2="61" y2="382.5" stroke="#86867a" stroke-width="1"/>
<line x1="58" y1="373.7" x2="61" y2="373.7" stroke="#86867a" stroke-width="1"/>
<line x1="58" y1="364.9" x2="61" y2="364.9" stroke="#86867a" stroke-width="1"/>
<line x1="58" y1="356.1" x2="61" y2="356.1" stroke="#86867a" stroke-width="1"/>
<line x1="58" y1="347.3" x2="61" y2="347.3" stroke="#86867a" stroke-width="1"/>
<line x1="58" y1="338.5" x2="61" y2="338.5" stroke="#86867a" stroke-width="1"/>
<text x="54" y="393.5" font-size="5.9" fill="#8c8c8c" text-anchor="end" font-weight="normal">0</text>
<text x="54" y="375.9" font-size="5.9" fill="#8c8c8c" text-anchor="end" font-weight="normal">5,000</text>
<text x="54" y="358.3" font-size="5.9" fill="#8c8c8c" text-anchor="end" font-weight="normal">10,000</text>
<line x1="61.0" y1="391.3" x2="497.5" y2="391.3" stroke="#86867a" stroke-width="1.4"/>
<line x1="69.2" y1="391.3" x2="69.2" y2="394.8" stroke="#86867a" stroke-width="1"/>
<line x1="77.1" y1="391.3" x2="77.1" y2="394.8" stroke="#86867a" stroke-width="1"/>
<line x1="85.0" y1="391.3" x2="85.0" y2="394.8" stroke="#86867a" stroke-width="1"/>
<line x1="92.9" y1="391.3" x2="92.9" y2="394.8" stroke="#86867a" stroke-width="1"/>
<line x1="100.8" y1="391.3" x2="100.8" y2="394.8" stroke="#86867a" stroke-width="1"/>
<line x1="108.7" y1="391.3" x2="108.7" y2="394.8" stroke="#86867a" stroke-width="1"/>
<line x1="116.6" y1="391.3" x2="116.6" y2="394.8" stroke="#86867a" stroke-width="1"/>
<line x1="124.5" y1="391.3" x2="124.5" y2="394.8" stroke="#86867a" stroke-width="1"/>
<line x1="132.4" y1="391.3" x2="132.4" y2="394.8" stroke="#86867a" stroke-width="1"/>
<line x1="140.3" y1="391.3" x2="140.3" y2="394.8" stroke="#86867a" stroke-width="1"/>
<line x1="148.2" y1="391.3" x2="148.2" y2="394.8" stroke="#86867a" stroke-width="1"/>
<line x1="156.1" y1="391.3" x2="156.1" y2="394.8" stroke="#86867a" stroke-width="1"/>
<line x1="164.0" y1="391.3" x2="164.0" y2="394.8" stroke="#86867a" stroke-width="1"/>
<line x1="171.9" y1="391.3" x2="171.9" y2="394.8" stroke="#86867a" stroke-width="1"/>
<line x1="179.8" y1="391.3" x2="179.8" y2="394.8" stroke="#86867a" stroke-width="1"/>
<line x1="187.7" y1="391.3" x2="187.7" y2="394.8" stroke="#86867a" stroke-width="1"/>
<line x1="195.6" y1="391.3" x2="195.6" y2="394.8" stroke="#86867a" stroke-width="1"/>
<line x1="203.5" y1="391.3" x2="203.5" y2="394.8" stroke="#86867a" stroke-width="1"/>
<line x1="211.4" y1="391.3" x2="211.4" y2="394.8" stroke="#86867a" stroke-width="1"/>
<line x1="219.3" y1="391.3" x2="219.3" y2="394.8" stroke="#86867a" stroke-width="1"/>
<line x1="227.2" y1="391.3" x2="227.2" y2="394.8" stroke="#86867a" stroke-width="1"/>
<line x1="235.1" y1="391.3" x2="235.1" y2="394.8" stroke="#86867a" stroke-width="1"/>
<line x1="243.0" y1="391.3" x2="243.0" y2="394.8" stroke="#86867a" stroke-width="1"/>
<line x1="250.9" y1="391.3" x2="250.9" y2="394.8" stroke="#86867a" stroke-width="1"/>
<line x1="258.8" y1="391.3" x2="258.8" y2="394.8" stroke="#86867a" stroke-width="1"/>
<line x1="266.7" y1="391.3" x2="266.7" y2="394.8" stroke="#86867a" stroke-width="1"/>
<line x1="274.6" y1="391.3" x2="274.6" y2="394.8" stroke="#86867a" stroke-width="1"/>
<line x1="282.5" y1="391.3" x2="282.5" y2="394.8" stroke="#86867a" stroke-width="1"/>
<line x1="290.4" y1="391.3" x2="290.4" y2="394.8" stroke="#86867a" stroke-width="1"/>
<line x1="298.3" y1="391.3" x2="298.3" y2="394.8" stroke="#86867a" stroke-width="1"/>
<line x1="306.2" y1="391.3" x2="306.2" y2="394.8" stroke="#86867a" stroke-width="1"/>
<line x1="314.1" y1="391.3" x2="314.1" y2="394.8" stroke="#86867a" stroke-width="1"/>
<line x1="322.0" y1="391.3" x2="322.0" y2="394.8" stroke="#86867a" stroke-width="1"/>
<line x1="329.9" y1="391.3" x2="329.9" y2="394.8" stroke="#86867a" stroke-width="1"/>
<line x1="337.8" y1="391.3" x2="337.8" y2="394.8" stroke="#86867a" stroke-width="1"/>
<line x1="345.7" y1="391.3" x2="345.7" y2="394.8" stroke="#86867a" stroke-width="1"/>
<line x1="353.6" y1="391.3" x2="353.6" y2="394.8" stroke="#86867a" stroke-width="1"/>
<line x1="361.5" y1="391.3" x2="361.5" y2="394.8" stroke="#86867a" stroke-width="1"/>
<line x1="369.4" y1="391.3" x2="369.4" y2="394.8" stroke="#86867a" stroke-width="1"/>
<line x1="377.3" y1="391.3" x2="377.3" y2="394.8" stroke="#86867a" stroke-width="1"/>
<line x1="385.2" y1="391.3" x2="385.2" y2="394.8" stroke="#86867a" stroke-width="1"/>
<line x1="393.1" y1="391.3" x2="393.1" y2="394.8" stroke="#86867a" stroke-width="1"/>
<line x1="401.0" y1="391.3" x2="401.0" y2="394.8" stroke="#86867a" stroke-width="1"/>
<line x1="408.9" y1="391.3" x2="408.9" y2="394.8" stroke="#86867a" stroke-width="1"/>
<line x1="416.8" y1="391.3" x2="416.8" y2="394.8" stroke="#86867a" stroke-width="1"/>
<line x1="424.7" y1="391.3" x2="424.7" y2="394.8" stroke="#86867a" stroke-width="1"/>
<line x1="432.6" y1="391.3" x2="432.6" y2="394.8" stroke="#86867a" stroke-width="1"/>
<line x1="440.5" y1="391.3" x2="440.5" y2="394.8" stroke="#86867a" stroke-width="1"/>
<line x1="448.4" y1="391.3" x2="448.4" y2="394.8" stroke="#86867a" stroke-width="1"/>
<line x1="456.3" y1="391.3" x2="456.3" y2="394.8" stroke="#86867a" stroke-width="1"/>
<line x1="464.2" y1="391.3" x2="464.2" y2="394.8" stroke="#86867a" stroke-width="1"/>
<line x1="472.1" y1="391.3" x2="472.1" y2="394.8" stroke="#86867a" stroke-width="1"/>
<line x1="480.0" y1="391.3" x2="480.0" y2="394.8" stroke="#86867a" stroke-width="1"/>
<line x1="487.9" y1="391.3" x2="487.9" y2="394.8" stroke="#86867a" stroke-width="1"/>
<polyline fill="none" stroke="#1a1a1a" stroke-width="0.9" points="69.2,357.8 77.1,371.9 85.0,366.4 92.9,372.9 100.8,359.1 108.7,372.9 116.6,374.0 124.5,367.9 132.4,362.0 140.3,367.9 148.2,373.1 156.1,370.2 164.0,356.7 171.9,370.8 179.8,369.0 187.7,369.9 195.6,359.9 203.5,370.2 211.4,370.2 219.3,368.4 227.2,360.9 235.1,371.4 243.0,372.3 250.9,365.5 258.8,354.1 266.7,368.4 274.6,368.4 282.5,372.6 290.4,359.9 298.3,371.7 306.2,373.4 314.1,367.9 322.0,359.9 329.9,380.5 337.8,376.4 345.7,362.9 353.6,367.9"/>
<rect x="67.7" y="356.3" width="3" height="3" fill="#111"/>
<rect x="75.6" y="370.4" width="3" height="3" fill="#111"/>
<rect x="83.5" y="364.9" width="3" height="3" fill="#111"/>
<rect x="91.4" y="371.4" width="3" height="3" fill="#111"/>
<rect x="99.3" y="357.6" width="3" height="3" fill="#111"/>
<rect x="107.2" y="371.4" width="3" height="3" fill="#111"/>
<rect x="115.1" y="372.5" width="3" height="3" fill="#111"/>
<rect x="123.0" y="366.4" width="3" height="3" fill="#111"/>
<rect x="130.9" y="360.5" width="3" height="3" fill="#111"/>
<rect x="138.8" y="366.4" width="3" height="3" fill="#111"/>
<rect x="146.7" y="371.6" width="3" height="3" fill="#111"/>
<rect x="154.6" y="368.7" width="3" height="3" fill="#111"/>
<rect x="162.5" y="355.2" width="3" height="3" fill="#111"/>
<rect x="170.4" y="369.3" width="3" height="3" fill="#111"/>
<rect x="178.3" y="367.5" width="3" height="3" fill="#111"/>
<rect x="186.2" y="368.4" width="3" height="3" fill="#111"/>
<rect x="194.1" y="358.4" width="3" height="3" fill="#111"/>
<rect x="202.0" y="368.7" width="3" height="3" fill="#111"/>
<rect x="209.9" y="368.7" width="3" height="3" fill="#111"/>
<rect x="217.8" y="366.9" width="3" height="3" fill="#111"/>
<rect x="225.7" y="359.4" width="3" height="3" fill="#111"/>
<rect x="233.6" y="369.9" width="3" height="3" fill="#111"/>
<rect x="241.5" y="370.8" width="3" height="3" fill="#111"/>
<rect x="249.4" y="364.0" width="3" height="3" fill="#111"/>
<rect x="257.3" y="352.6" width="3" height="3" fill="#111"/>
<rect x="265.2" y="366.9" width="3" height="3" fill="#111"/>
<rect x="273.1" y="366.9" width="3" height="3" fill="#111"/>
<rect x="281.0" y="371.1" width="3" height="3" fill="#111"/>
<rect x="288.9" y="358.4" width="3" height="3" fill="#111"/>
<rect x="296.8" y="370.2" width="3" height="3" fill="#111"/>
<rect x="304.7" y="371.9" width="3" height="3" fill="#111"/>
<rect x="312.6" y="366.4" width="3" height="3" fill="#111"/>
<rect x="320.5" y="358.4" width="3" height="3" fill="#111"/>
<rect x="328.4" y="379.0" width="3" height="3" fill="#111"/>
<rect x="336.3" y="374.9" width="3" height="3" fill="#111"/>
<rect x="344.2" y="361.4" width="3" height="3" fill="#111"/>
<rect x="352.1" y="366.4" width="3" height="3" fill="#111"/>
<polyline fill="none" stroke="#ff2020" stroke-width="0.9" points="203.5,359.7 211.4,373.9 219.3,384.9 227.2,360.2 235.1,356.2 243.0,356.7 250.9,367.0 258.8,363.7 266.7,351.8 274.6,363.7 282.5,363.7 290.4,371.3 298.3,369.2 306.2,369.8 314.1,370.1 322.0,362.6 329.9,364.4 337.8,362.6 345.7,372.4 353.6,369.2 361.5,359.5 369.4,359.5 377.3,357.4 385.2,364.5 393.1,359.8 401.0,365.4 408.9,375.6 416.8,369.1 424.7,373.1 432.6,369.6 440.5,371.9 448.4,369.1 456.3,357.4 464.2,358.0 472.1,355.6 480.0,364.5 487.9,359.5"/>
<rect x="202.0" y="358.2" width="3" height="3" fill="#ff1a1a"/>
<rect x="209.9" y="372.4" width="3" height="3" fill="#ff1a1a"/>
<rect x="217.8" y="383.4" width="3" height="3" fill="#ff1a1a"/>
<rect x="225.7" y="358.7" width="3" height="3" fill="#ff1a1a"/>
<rect x="233.6" y="354.7" width="3" height="3" fill="#ff1a1a"/>
<rect x="241.5" y="355.2" width="3" height="3" fill="#ff1a1a"/>
<rect x="249.4" y="365.5" width="3" height="3" fill="#ff1a1a"/>
<rect x="257.3" y="362.2" width="3" height="3" fill="#ff1a1a"/>
<rect x="265.2" y="350.3" width="3" height="3" fill="#ff1a1a"/>
<rect x="273.1" y="362.2" width="3" height="3" fill="#ff1a1a"/>
<rect x="281.0" y="362.2" width="3" height="3" fill="#ff1a1a"/>
<rect x="288.9" y="369.8" width="3" height="3" fill="#ff1a1a"/>
<rect x="296.8" y="367.7" width="3" height="3" fill="#ff1a1a"/>
<rect x="304.7" y="368.3" width="3" height="3" fill="#ff1a1a"/>
<rect x="312.6" y="368.6" width="3" height="3" fill="#ff1a1a"/>
<rect x="320.5" y="361.1" width="3" height="3" fill="#ff1a1a"/>
<rect x="328.4" y="362.9" width="3" height="3" fill="#ff1a1a"/>
<rect x="336.3" y="361.1" width="3" height="3" fill="#ff1a1a"/>
<rect x="344.2" y="370.9" width="3" height="3" fill="#ff1a1a"/>
<rect x="352.1" y="367.7" width="3" height="3" fill="#ff1a1a"/>
<rect x="360.0" y="358.0" width="3" height="3" fill="#ff1a1a"/>
<rect x="367.9" y="358.0" width="3" height="3" fill="#ff1a1a"/>
<rect x="375.8" y="355.9" width="3" height="3" fill="#ff1a1a"/>
<rect x="383.7" y="363.0" width="3" height="3" fill="#ff1a1a"/>
<rect x="391.6" y="358.3" width="3" height="3" fill="#ff1a1a"/>
<rect x="399.5" y="363.9" width="3" height="3" fill="#ff1a1a"/>
<rect x="407.4" y="374.1" width="3" height="3" fill="#ff1a1a"/>
<rect x="415.3" y="367.6" width="3" height="3" fill="#ff1a1a"/>
<rect x="423.2" y="371.6" width="3" height="3" fill="#ff1a1a"/>
<rect x="431.1" y="368.1" width="3" height="3" fill="#ff1a1a"/>
<rect x="439.0" y="370.4" width="3" height="3" fill="#ff1a1a"/>
<rect x="446.9" y="367.6" width="3" height="3" fill="#ff1a1a"/>
<rect x="454.8" y="355.9" width="3" height="3" fill="#ff1a1a"/>
<rect x="462.7" y="356.5" width="3" height="3" fill="#ff1a1a"/>
<rect x="470.6" y="354.1" width="3" height="3" fill="#ff1a1a"/>
<rect x="478.5" y="363.0" width="3" height="3" fill="#ff1a1a"/>
<rect x="486.4" y="358.0" width="3" height="3" fill="#ff1a1a"/>
<rect x="28" y="323.7" width="76" height="14.4" fill="#F9C8A4" stroke="#1F3D7A" stroke-width="1.5"/>
<text x="35.6" y="335.7" font-size="13.5" fill="#262626" font-weight="bold" stroke="#262626" stroke-width="0.20" stroke-linejoin="round" textLength="61.0" lengthAdjust="spacingAndGlyphs" >Model-7</text>
<line x1="204.3" y1="337.8" x2="487" y2="337.8" stroke="#4A7BD6" stroke-width="3.3"/>
<polyline points="476,331.5 488.5,337.8 476,344.1" fill="none" stroke="#4A7BD6" stroke-width="4" stroke-linejoin="round"/>
<rect x="34.2" y="410.9" width="464.3" height="69.8" fill="#fff" stroke="#1F3D7A" stroke-width="1.8"/>
<line x1="61.0" y1="455.2" x2="497.5" y2="455.2" stroke="#dadada" stroke-width="0.8" stroke-dasharray="1.5 1.5"/>
<line x1="61.0" y1="437.6" x2="497.5" y2="437.6" stroke="#dadada" stroke-width="0.8" stroke-dasharray="1.5 1.5"/>
<line x1="61.0" y1="420.0" x2="497.5" y2="420.0" stroke="#dadada" stroke-width="0.8" stroke-dasharray="1.5 1.5"/>
<line x1="69.2" y1="420.0" x2="69.2" y2="472.8" stroke="#e0e0e0" stroke-width="0.8" stroke-dasharray="1.5 1.5"/>
<line x1="77.1" y1="420.0" x2="77.1" y2="472.8" stroke="#e0e0e0" stroke-width="0.8" stroke-dasharray="1.5 1.5"/>
<line x1="85.0" y1="420.0" x2="85.0" y2="472.8" stroke="#e0e0e0" stroke-width="0.8" stroke-dasharray="1.5 1.5"/>
<line x1="92.9" y1="420.0" x2="92.9" y2="472.8" stroke="#e0e0e0" stroke-width="0.8" stroke-dasharray="1.5 1.5"/>
<line x1="100.8" y1="420.0" x2="100.8" y2="472.8" stroke="#e0e0e0" stroke-width="0.8" stroke-dasharray="1.5 1.5"/>
<line x1="108.7" y1="420.0" x2="108.7" y2="472.8" stroke="#404040" stroke-width="0.9" stroke-dasharray="1.2 1.2"/>
<line x1="116.6" y1="420.0" x2="116.6" y2="472.8" stroke="#e0e0e0" stroke-width="0.8" stroke-dasharray="1.5 1.5"/>
<line x1="124.5" y1="420.0" x2="124.5" y2="472.8" stroke="#e0e0e0" stroke-width="0.8" stroke-dasharray="1.5 1.5"/>
<line x1="132.4" y1="420.0" x2="132.4" y2="472.8" stroke="#e0e0e0" stroke-width="0.8" stroke-dasharray="1.5 1.5"/>
<line x1="140.3" y1="420.0" x2="140.3" y2="472.8" stroke="#e0e0e0" stroke-width="0.8" stroke-dasharray="1.5 1.5"/>
<line x1="148.2" y1="420.0" x2="148.2" y2="472.8" stroke="#e0e0e0" stroke-width="0.8" stroke-dasharray="1.5 1.5"/>
<line x1="156.1" y1="420.0" x2="156.1" y2="472.8" stroke="#e0e0e0" stroke-width="0.8" stroke-dasharray="1.5 1.5"/>
<line x1="164.0" y1="420.0" x2="164.0" y2="472.8" stroke="#e0e0e0" stroke-width="0.8" stroke-dasharray="1.5 1.5"/>
<line x1="171.9" y1="420.0" x2="171.9" y2="472.8" stroke="#e0e0e0" stroke-width="0.8" stroke-dasharray="1.5 1.5"/>
<line x1="179.8" y1="420.0" x2="179.8" y2="472.8" stroke="#e0e0e0" stroke-width="0.8" stroke-dasharray="1.5 1.5"/>
<line x1="187.7" y1="420.0" x2="187.7" y2="472.8" stroke="#e0e0e0" stroke-width="0.8" stroke-dasharray="1.5 1.5"/>
<line x1="195.6" y1="420.0" x2="195.6" y2="472.8" stroke="#e0e0e0" stroke-width="0.8" stroke-dasharray="1.5 1.5"/>
<line x1="203.5" y1="420.0" x2="203.5" y2="472.8" stroke="#404040" stroke-width="0.9" stroke-dasharray="1.2 1.2"/>
<line x1="211.4" y1="420.0" x2="211.4" y2="472.8" stroke="#e0e0e0" stroke-width="0.8" stroke-dasharray="1.5 1.5"/>
<line x1="219.3" y1="420.0" x2="219.3" y2="472.8" stroke="#e0e0e0" stroke-width="0.8" stroke-dasharray="1.5 1.5"/>
<line x1="227.2" y1="420.0" x2="227.2" y2="472.8" stroke="#e0e0e0" stroke-width="0.8" stroke-dasharray="1.5 1.5"/>
<line x1="235.1" y1="420.0" x2="235.1" y2="472.8" stroke="#e0e0e0" stroke-width="0.8" stroke-dasharray="1.5 1.5"/>
<line x1="243.0" y1="420.0" x2="243.0" y2="472.8" stroke="#e0e0e0" stroke-width="0.8" stroke-dasharray="1.5 1.5"/>
<line x1="250.9" y1="420.0" x2="250.9" y2="472.8" stroke="#e0e0e0" stroke-width="0.8" stroke-dasharray="1.5 1.5"/>
<line x1="258.8" y1="420.0" x2="258.8" y2="472.8" stroke="#e0e0e0" stroke-width="0.8" stroke-dasharray="1.5 1.5"/>
<line x1="266.7" y1="420.0" x2="266.7" y2="472.8" stroke="#e0e0e0" stroke-width="0.8" stroke-dasharray="1.5 1.5"/>
<line x1="274.6" y1="420.0" x2="274.6" y2="472.8" stroke="#e0e0e0" stroke-width="0.8" stroke-dasharray="1.5 1.5"/>
<line x1="282.5" y1="420.0" x2="282.5" y2="472.8" stroke="#e0e0e0" stroke-width="0.8" stroke-dasharray="1.5 1.5"/>
<line x1="290.4" y1="420.0" x2="290.4" y2="472.8" stroke="#e0e0e0" stroke-width="0.8" stroke-dasharray="1.5 1.5"/>
<line x1="298.3" y1="420.0" x2="298.3" y2="472.8" stroke="#404040" stroke-width="0.9" stroke-dasharray="1.2 1.2"/>
<line x1="306.2" y1="420.0" x2="306.2" y2="472.8" stroke="#e0e0e0" stroke-width="0.8" stroke-dasharray="1.5 1.5"/>
<line x1="314.1" y1="420.0" x2="314.1" y2="472.8" stroke="#e0e0e0" stroke-width="0.8" stroke-dasharray="1.5 1.5"/>
<line x1="322.0" y1="420.0" x2="322.0" y2="472.8" stroke="#e0e0e0" stroke-width="0.8" stroke-dasharray="1.5 1.5"/>
<line x1="329.9" y1="420.0" x2="329.9" y2="472.8" stroke="#e0e0e0" stroke-width="0.8" stroke-dasharray="1.5 1.5"/>
<line x1="337.8" y1="420.0" x2="337.8" y2="472.8" stroke="#e0e0e0" stroke-width="0.8" stroke-dasharray="1.5 1.5"/>
<line x1="345.7" y1="420.0" x2="345.7" y2="472.8" stroke="#e0e0e0" stroke-width="0.8" stroke-dasharray="1.5 1.5"/>
<line x1="353.6" y1="420.0" x2="353.6" y2="472.8" stroke="#ff5050" stroke-width="1.1" stroke-dasharray="1.2 1.2"/>
<line x1="361.5" y1="420.0" x2="361.5" y2="472.8" stroke="#e0e0e0" stroke-width="0.8" stroke-dasharray="1.5 1.5"/>
<line x1="369.4" y1="420.0" x2="369.4" y2="472.8" stroke="#e0e0e0" stroke-width="0.8" stroke-dasharray="1.5 1.5"/>
<line x1="377.3" y1="420.0" x2="377.3" y2="472.8" stroke="#e0e0e0" stroke-width="0.8" stroke-dasharray="1.5 1.5"/>
<line x1="385.2" y1="420.0" x2="385.2" y2="472.8" stroke="#e0e0e0" stroke-width="0.8" stroke-dasharray="1.5 1.5"/>
<line x1="393.1" y1="420.0" x2="393.1" y2="472.8" stroke="#404040" stroke-width="0.9" stroke-dasharray="1.2 1.2"/>
<line x1="401.0" y1="420.0" x2="401.0" y2="472.8" stroke="#e0e0e0" stroke-width="0.8" stroke-dasharray="1.5 1.5"/>
<line x1="408.9" y1="420.0" x2="408.9" y2="472.8" stroke="#e0e0e0" stroke-width="0.8" stroke-dasharray="1.5 1.5"/>
<line x1="416.8" y1="420.0" x2="416.8" y2="472.8" stroke="#e0e0e0" stroke-width="0.8" stroke-dasharray="1.5 1.5"/>
<line x1="424.7" y1="420.0" x2="424.7" y2="472.8" stroke="#e0e0e0" stroke-width="0.8" stroke-dasharray="1.5 1.5"/>
<line x1="432.6" y1="420.0" x2="432.6" y2="472.8" stroke="#e0e0e0" stroke-width="0.8" stroke-dasharray="1.5 1.5"/>
<line x1="440.5" y1="420.0" x2="440.5" y2="472.8" stroke="#e0e0e0" stroke-width="0.8" stroke-dasharray="1.5 1.5"/>
<line x1="448.4" y1="420.0" x2="448.4" y2="472.8" stroke="#e0e0e0" stroke-width="0.8" stroke-dasharray="1.5 1.5"/>
<line x1="456.3" y1="420.0" x2="456.3" y2="472.8" stroke="#e0e0e0" stroke-width="0.8" stroke-dasharray="1.5 1.5"/>
<line x1="464.2" y1="420.0" x2="464.2" y2="472.8" stroke="#e0e0e0" stroke-width="0.8" stroke-dasharray="1.5 1.5"/>
<line x1="472.1" y1="420.0" x2="472.1" y2="472.8" stroke="#e0e0e0" stroke-width="0.8" stroke-dasharray="1.5 1.5"/>
<line x1="480.0" y1="420.0" x2="480.0" y2="472.8" stroke="#e0e0e0" stroke-width="0.8" stroke-dasharray="1.5 1.5"/>
<line x1="487.9" y1="420.0" x2="487.9" y2="472.8" stroke="#404040" stroke-width="0.9" stroke-dasharray="1.2 1.2"/>
<line x1="61" y1="420.0" x2="61" y2="472.8" stroke="#86867a" stroke-width="1.2"/>
<line x1="58" y1="472.8" x2="61" y2="472.8" stroke="#86867a" stroke-width="1"/>
<line x1="58" y1="464.0" x2="61" y2="464.0" stroke="#86867a" stroke-width="1"/>
<line x1="58" y1="455.2" x2="61" y2="455.2" stroke="#86867a" stroke-width="1"/>
<line x1="58" y1="446.4" x2="61" y2="446.4" stroke="#86867a" stroke-width="1"/>
<line x1="58" y1="437.6" x2="61" y2="437.6" stroke="#86867a" stroke-width="1"/>
<line x1="58" y1="428.8" x2="61" y2="428.8" stroke="#86867a" stroke-width="1"/>
<line x1="58" y1="420.0" x2="61" y2="420.0" stroke="#86867a" stroke-width="1"/>
<text x="54" y="475.0" font-size="5.9" fill="#8c8c8c" text-anchor="end" font-weight="normal">0</text>
<text x="54" y="457.4" font-size="5.9" fill="#8c8c8c" text-anchor="end" font-weight="normal">5,000</text>
<text x="54" y="439.8" font-size="5.9" fill="#8c8c8c" text-anchor="end" font-weight="normal">10,000</text>
<line x1="61.0" y1="472.8" x2="497.5" y2="472.8" stroke="#86867a" stroke-width="1.4"/>
<line x1="69.2" y1="472.8" x2="69.2" y2="476.3" stroke="#86867a" stroke-width="1"/>
<line x1="77.1" y1="472.8" x2="77.1" y2="476.3" stroke="#86867a" stroke-width="1"/>
<line x1="85.0" y1="472.8" x2="85.0" y2="476.3" stroke="#86867a" stroke-width="1"/>
<line x1="92.9" y1="472.8" x2="92.9" y2="476.3" stroke="#86867a" stroke-width="1"/>
<line x1="100.8" y1="472.8" x2="100.8" y2="476.3" stroke="#86867a" stroke-width="1"/>
<line x1="108.7" y1="472.8" x2="108.7" y2="476.3" stroke="#86867a" stroke-width="1"/>
<line x1="116.6" y1="472.8" x2="116.6" y2="476.3" stroke="#86867a" stroke-width="1"/>
<line x1="124.5" y1="472.8" x2="124.5" y2="476.3" stroke="#86867a" stroke-width="1"/>
<line x1="132.4" y1="472.8" x2="132.4" y2="476.3" stroke="#86867a" stroke-width="1"/>
<line x1="140.3" y1="472.8" x2="140.3" y2="476.3" stroke="#86867a" stroke-width="1"/>
<line x1="148.2" y1="472.8" x2="148.2" y2="476.3" stroke="#86867a" stroke-width="1"/>
<line x1="156.1" y1="472.8" x2="156.1" y2="476.3" stroke="#86867a" stroke-width="1"/>
<line x1="164.0" y1="472.8" x2="164.0" y2="476.3" stroke="#86867a" stroke-width="1"/>
<line x1="171.9" y1="472.8" x2="171.9" y2="476.3" stroke="#86867a" stroke-width="1"/>
<line x1="179.8" y1="472.8" x2="179.8" y2="476.3" stroke="#86867a" stroke-width="1"/>
<line x1="187.7" y1="472.8" x2="187.7" y2="476.3" stroke="#86867a" stroke-width="1"/>
<line x1="195.6" y1="472.8" x2="195.6" y2="476.3" stroke="#86867a" stroke-width="1"/>
<line x1="203.5" y1="472.8" x2="203.5" y2="476.3" stroke="#86867a" stroke-width="1"/>
<line x1="211.4" y1="472.8" x2="211.4" y2="476.3" stroke="#86867a" stroke-width="1"/>
<line x1="219.3" y1="472.8" x2="219.3" y2="476.3" stroke="#86867a" stroke-width="1"/>
<line x1="227.2" y1="472.8" x2="227.2" y2="476.3" stroke="#86867a" stroke-width="1"/>
<line x1="235.1" y1="472.8" x2="235.1" y2="476.3" stroke="#86867a" stroke-width="1"/>
<line x1="243.0" y1="472.8" x2="243.0" y2="476.3" stroke="#86867a" stroke-width="1"/>
<line x1="250.9" y1="472.8" x2="250.9" y2="476.3" stroke="#86867a" stroke-width="1"/>
<line x1="258.8" y1="472.8" x2="258.8" y2="476.3" stroke="#86867a" stroke-width="1"/>
<line x1="266.7" y1="472.8" x2="266.7" y2="476.3" stroke="#86867a" stroke-width="1"/>
<line x1="274.6" y1="472.8" x2="274.6" y2="476.3" stroke="#86867a" stroke-width="1"/>
<line x1="282.5" y1="472.8" x2="282.5" y2="476.3" stroke="#86867a" stroke-width="1"/>
<line x1="290.4" y1="472.8" x2="290.4" y2="476.3" stroke="#86867a" stroke-width="1"/>
<line x1="298.3" y1="472.8" x2="298.3" y2="476.3" stroke="#86867a" stroke-width="1"/>
<line x1="306.2" y1="472.8" x2="306.2" y2="476.3" stroke="#86867a" stroke-width="1"/>
<line x1="314.1" y1="472.8" x2="314.1" y2="476.3" stroke="#86867a" stroke-width="1"/>
<line x1="322.0" y1="472.8" x2="322.0" y2="476.3" stroke="#86867a" stroke-width="1"/>
<line x1="329.9" y1="472.8" x2="329.9" y2="476.3" stroke="#86867a" stroke-width="1"/>
<line x1="337.8" y1="472.8" x2="337.8" y2="476.3" stroke="#86867a" stroke-width="1"/>
<line x1="345.7" y1="472.8" x2="345.7" y2="476.3" stroke="#86867a" stroke-width="1"/>
<line x1="353.6" y1="472.8" x2="353.6" y2="476.3" stroke="#86867a" stroke-width="1"/>
<line x1="361.5" y1="472.8" x2="361.5" y2="476.3" stroke="#86867a" stroke-width="1"/>
<line x1="369.4" y1="472.8" x2="369.4" y2="476.3" stroke="#86867a" stroke-width="1"/>
<line x1="377.3" y1="472.8" x2="377.3" y2="476.3" stroke="#86867a" stroke-width="1"/>
<line x1="385.2" y1="472.8" x2="385.2" y2="476.3" stroke="#86867a" stroke-width="1"/>
<line x1="393.1" y1="472.8" x2="393.1" y2="476.3" stroke="#86867a" stroke-width="1"/>
<line x1="401.0" y1="472.8" x2="401.0" y2="476.3" stroke="#86867a" stroke-width="1"/>
<line x1="408.9" y1="472.8" x2="408.9" y2="476.3" stroke="#86867a" stroke-width="1"/>
<line x1="416.8" y1="472.8" x2="416.8" y2="476.3" stroke="#86867a" stroke-width="1"/>
<line x1="424.7" y1="472.8" x2="424.7" y2="476.3" stroke="#86867a" stroke-width="1"/>
<line x1="432.6" y1="472.8" x2="432.6" y2="476.3" stroke="#86867a" stroke-width="1"/>
<line x1="440.5" y1="472.8" x2="440.5" y2="476.3" stroke="#86867a" stroke-width="1"/>
<line x1="448.4" y1="472.8" x2="448.4" y2="476.3" stroke="#86867a" stroke-width="1"/>
<line x1="456.3" y1="472.8" x2="456.3" y2="476.3" stroke="#86867a" stroke-width="1"/>
<line x1="464.2" y1="472.8" x2="464.2" y2="476.3" stroke="#86867a" stroke-width="1"/>
<line x1="472.1" y1="472.8" x2="472.1" y2="476.3" stroke="#86867a" stroke-width="1"/>
<line x1="480.0" y1="472.8" x2="480.0" y2="476.3" stroke="#86867a" stroke-width="1"/>
<line x1="487.9" y1="472.8" x2="487.9" y2="476.3" stroke="#86867a" stroke-width="1"/>
<polyline fill="none" stroke="#1a1a1a" stroke-width="0.9" points="69.2,439.3 77.1,453.4 85.0,447.9 92.9,454.4 100.8,440.6 108.7,454.4 116.6,455.5 124.5,449.4 132.4,443.5 140.3,449.4 148.2,454.6 156.1,451.7 164.0,438.2 171.9,452.3 179.8,450.5 187.7,451.4 195.6,441.4 203.5,451.7 211.4,451.7 219.3,449.9 227.2,442.4 235.1,452.9 243.0,453.8 250.9,447.0 258.8,435.6 266.7,449.9 274.6,449.9 282.5,454.1 290.4,441.4 298.3,453.2 306.2,454.9 314.1,449.4 322.0,441.4 329.9,462.0 337.8,457.9 345.7,444.4 353.6,449.4"/>
<rect x="67.7" y="437.8" width="3" height="3" fill="#111"/>
<rect x="75.6" y="451.9" width="3" height="3" fill="#111"/>
<rect x="83.5" y="446.4" width="3" height="3" fill="#111"/>
<rect x="91.4" y="452.9" width="3" height="3" fill="#111"/>
<rect x="99.3" y="439.1" width="3" height="3" fill="#111"/>
<rect x="107.2" y="452.9" width="3" height="3" fill="#111"/>
<rect x="115.1" y="454.0" width="3" height="3" fill="#111"/>
<rect x="123.0" y="447.9" width="3" height="3" fill="#111"/>
<rect x="130.9" y="442.0" width="3" height="3" fill="#111"/>
<rect x="138.8" y="447.9" width="3" height="3" fill="#111"/>
<rect x="146.7" y="453.1" width="3" height="3" fill="#111"/>
<rect x="154.6" y="450.2" width="3" height="3" fill="#111"/>
<rect x="162.5" y="436.7" width="3" height="3" fill="#111"/>
<rect x="170.4" y="450.8" width="3" height="3" fill="#111"/>
<rect x="178.3" y="449.0" width="3" height="3" fill="#111"/>
<rect x="186.2" y="449.9" width="3" height="3" fill="#111"/>
<rect x="194.1" y="439.9" width="3" height="3" fill="#111"/>
<rect x="202.0" y="450.2" width="3" height="3" fill="#111"/>
<rect x="209.9" y="450.2" width="3" height="3" fill="#111"/>
<rect x="217.8" y="448.4" width="3" height="3" fill="#111"/>
<rect x="225.7" y="440.9" width="3" height="3" fill="#111"/>
<rect x="233.6" y="451.4" width="3" height="3" fill="#111"/>
<rect x="241.5" y="452.3" width="3" height="3" fill="#111"/>
<rect x="249.4" y="445.5" width="3" height="3" fill="#111"/>
<rect x="257.3" y="434.1" width="3" height="3" fill="#111"/>
<rect x="265.2" y="448.4" width="3" height="3" fill="#111"/>
<rect x="273.1" y="448.4" width="3" height="3" fill="#111"/>
<rect x="281.0" y="452.6" width="3" height="3" fill="#111"/>
<rect x="288.9" y="439.9" width="3" height="3" fill="#111"/>
<rect x="296.8" y="451.7" width="3" height="3" fill="#111"/>
<rect x="304.7" y="453.4" width="3" height="3" fill="#111"/>
<rect x="312.6" y="447.9" width="3" height="3" fill="#111"/>
<rect x="320.5" y="439.9" width="3" height="3" fill="#111"/>
<rect x="328.4" y="460.5" width="3" height="3" fill="#111"/>
<rect x="336.3" y="456.4" width="3" height="3" fill="#111"/>
<rect x="344.2" y="442.9" width="3" height="3" fill="#111"/>
<rect x="352.1" y="447.9" width="3" height="3" fill="#111"/>
<polyline fill="none" stroke="#ff2020" stroke-width="0.9" points="203.5,454.0 211.4,454.9 219.3,448.8 227.2,447.9 235.1,447.9 243.0,450.9 250.9,451.2 258.8,435.7 266.7,450.9 274.6,446.0 282.5,452.6 290.4,440.4 298.3,453.5 306.2,454.7 314.1,450.9 322.0,447.9 329.9,451.7 337.8,459.6 345.7,459.6 353.6,439.2 361.5,453.2 369.4,449.9 377.3,454.2 385.2,442.5 393.1,454.0 401.0,455.5 408.9,450.3 416.8,443.8 424.7,453.6 432.6,454.9 440.5,448.6 448.4,439.2 456.3,453.2 464.2,449.9 472.1,454.2 480.0,442.5 487.9,454.0"/>
<rect x="202.0" y="452.5" width="3" height="3" fill="#ff1a1a"/>
<rect x="209.9" y="453.4" width="3" height="3" fill="#ff1a1a"/>
<rect x="217.8" y="447.3" width="3" height="3" fill="#ff1a1a"/>
<rect x="225.7" y="446.4" width="3" height="3" fill="#ff1a1a"/>
<rect x="233.6" y="446.4" width="3" height="3" fill="#ff1a1a"/>
<rect x="241.5" y="449.4" width="3" height="3" fill="#ff1a1a"/>
<rect x="249.4" y="449.7" width="3" height="3" fill="#ff1a1a"/>
<rect x="257.3" y="434.2" width="3" height="3" fill="#ff1a1a"/>
<rect x="265.2" y="449.4" width="3" height="3" fill="#ff1a1a"/>
<rect x="273.1" y="444.5" width="3" height="3" fill="#ff1a1a"/>
<rect x="281.0" y="451.1" width="3" height="3" fill="#ff1a1a"/>
<rect x="288.9" y="438.9" width="3" height="3" fill="#ff1a1a"/>
<rect x="296.8" y="452.0" width="3" height="3" fill="#ff1a1a"/>
<rect x="304.7" y="453.2" width="3" height="3" fill="#ff1a1a"/>
<rect x="312.6" y="449.4" width="3" height="3" fill="#ff1a1a"/>
<rect x="320.5" y="446.4" width="3" height="3" fill="#ff1a1a"/>
<rect x="328.4" y="450.2" width="3" height="3" fill="#ff1a1a"/>
<rect x="336.3" y="458.1" width="3" height="3" fill="#ff1a1a"/>
<rect x="344.2" y="458.1" width="3" height="3" fill="#ff1a1a"/>
<rect x="352.1" y="437.7" width="3" height="3" fill="#ff1a1a"/>
<rect x="360.0" y="451.7" width="3" height="3" fill="#ff1a1a"/>
<rect x="367.9" y="448.4" width="3" height="3" fill="#ff1a1a"/>
<rect x="375.8" y="452.7" width="3" height="3" fill="#ff1a1a"/>
<rect x="383.7" y="441.0" width="3" height="3" fill="#ff1a1a"/>
<rect x="391.6" y="452.5" width="3" height="3" fill="#ff1a1a"/>
<rect x="399.5" y="454.0" width="3" height="3" fill="#ff1a1a"/>
<rect x="407.4" y="448.8" width="3" height="3" fill="#ff1a1a"/>
<rect x="415.3" y="442.3" width="3" height="3" fill="#ff1a1a"/>
<rect x="423.2" y="452.1" width="3" height="3" fill="#ff1a1a"/>
<rect x="431.1" y="453.4" width="3" height="3" fill="#ff1a1a"/>
<rect x="439.0" y="447.1" width="3" height="3" fill="#ff1a1a"/>
<rect x="446.9" y="437.7" width="3" height="3" fill="#ff1a1a"/>
<rect x="454.8" y="451.7" width="3" height="3" fill="#ff1a1a"/>
<rect x="462.7" y="448.4" width="3" height="3" fill="#ff1a1a"/>
<rect x="470.6" y="452.7" width="3" height="3" fill="#ff1a1a"/>
<rect x="478.5" y="441.0" width="3" height="3" fill="#ff1a1a"/>
<rect x="486.4" y="452.5" width="3" height="3" fill="#ff1a1a"/>
<rect x="28" y="405.2" width="76" height="14.4" fill="#F9C8A4" stroke="#1F3D7A" stroke-width="1.5"/>
<text x="35.6" y="417.2" font-size="13.5" fill="#262626" font-weight="bold" stroke="#262626" stroke-width="0.20" stroke-linejoin="round" textLength="61.0" lengthAdjust="spacingAndGlyphs" >Model-8</text>
<line x1="204.3" y1="419.3" x2="487" y2="419.3" stroke="#4A7BD6" stroke-width="3.3"/>
<polyline points="476,413.0 488.5,419.3 476,425.6" fill="none" stroke="#4A7BD6" stroke-width="4" stroke-linejoin="round"/>
<rect x="273" y="242.5" width="78" height="224" rx="6" fill="none" stroke="#7E60A8" stroke-width="3.6"/>
<rect x="355.3" y="425" width="137" height="41.5" rx="8" fill="none" stroke="#4BB4C8" stroke-width="3.8"/>
<line x1="273" y1="474" x2="273" y2="498" stroke="#000" stroke-width="3" stroke-dasharray="3 3.7"/>
<line x1="354" y1="474" x2="354" y2="498" stroke="#000" stroke-width="3" stroke-dasharray="3 3.7"/>
<line x1="489.6" y1="474" x2="489.6" y2="498" stroke="#000" stroke-width="3" stroke-dasharray="3 3.7"/>
<line x1="278" y1="493.8" x2="287" y2="493.8" stroke="#111" stroke-width="1.5"/>
<line x1="341" y1="493.8" x2="349" y2="493.8" stroke="#111" stroke-width="1.5"/>
<line x1="359" y1="493.8" x2="382" y2="493.8" stroke="#111" stroke-width="1.5"/>
<line x1="463" y1="493.8" x2="485" y2="493.8" stroke="#111" stroke-width="1.5"/>
<polygon points="274,493.8 281,490.0 279.5,493.8 281,497.6" fill="#111"/>
<polygon points="353,493.8 346,490.0 347.5,493.8 346,497.6" fill="#111"/>
<polygon points="355.5,493.8 362.5,490.0 361.0,493.8 362.5,497.6" fill="#111"/>
<polygon points="488.5,493.8 481.5,490.0 483.0,493.8 481.5,497.6" fill="#111"/>
<text x="285.2" y="497.9" font-size="13.5" fill="#3535FA" font-weight="bold" stroke="#3535FA" stroke-width="0.27" stroke-linejoin="round" textLength="56.0" lengthAdjust="spacingAndGlyphs" >評価期間</text>
<text x="381.5" y="497.9" font-size="13.5" fill="#3535FA" font-weight="bold" stroke="#3535FA" stroke-width="0.27" stroke-linejoin="round" textLength="82.5" lengthAdjust="spacingAndGlyphs" >予測対象期間</text>
<ellipse cx="126.9" cy="303.1" rx="84.8" ry="40.1" fill="#4E7FD2" stroke="#33599E" stroke-width="1.5"/>
<text x="82.0" y="278.7" font-size="14.5" fill="#fff" font-weight="bold" stroke="#fff" stroke-width="0.29" stroke-linejoin="round" textLength="89.0" lengthAdjust="spacingAndGlyphs" >①予測モデル</text>
<text x="65.6" y="299.3" font-size="14.5" fill="#fff" font-weight="bold" stroke="#fff" stroke-width="0.29" stroke-linejoin="round" textLength="122.4" lengthAdjust="spacingAndGlyphs" >候補全てを対象に</text>
<text x="50.9" y="318.3" font-size="14.5" fill="#fff" font-weight="bold" stroke="#fff" stroke-width="0.29" stroke-linejoin="round" textLength="152.1" lengthAdjust="spacingAndGlyphs" >過去から未来に掛けて</text>
<text x="88.2" y="337.9" font-size="14.5" fill="#fff" font-weight="bold" stroke="#fff" stroke-width="0.29" stroke-linejoin="round" textLength="77.1" lengthAdjust="spacingAndGlyphs" >予測を実施</text>
<ellipse cx="191.8" cy="507.3" rx="75.6" ry="41" fill="#8064A2" stroke="#5A3F7E" stroke-width="1.5"/>
<text x="142.4" y="491.6" font-size="14.5" fill="#fff" font-weight="bold" stroke="#fff" stroke-width="0.29" stroke-linejoin="round" textLength="96.7" lengthAdjust="spacingAndGlyphs" >②評価期間の</text>
<text x="153.3" y="512.3" font-size="14.5" fill="#fff" font-weight="bold" stroke="#fff" stroke-width="0.29" stroke-linejoin="round" textLength="77.1" lengthAdjust="spacingAndGlyphs" >予測誤差を</text>
<text x="134.8" y="532.9" font-size="14.5" fill="#fff" font-weight="bold" stroke="#fff" stroke-width="0.29" stroke-linejoin="round" textLength="113.7" lengthAdjust="spacingAndGlyphs" >モデルごとに計算</text>
<polygon points="524.3,408.8 612,408.8 612,399.2 633.2,419 612,438.7 612,428.6 524.3,428.6" fill="#7F7F7F"/>
<rect x="646.4" y="391.5" width="170.4" height="101.8" fill="#fff" stroke="#262626" stroke-width="1.3" filter="url(#sh)"/>
<rect x="660.7" y="378.4" width="141.8" height="19.6" fill="#262626"/>
<text x="670.7" y="394.0" font-size="14.5" fill="#fff" font-weight="bold" stroke="#fff" stroke-width="0.30" stroke-linejoin="round" textLength="58.1" lengthAdjust="spacingAndGlyphs" >SKUxxx</text>
<text x="734.4" y="394.0" font-size="14.5" fill="#fff" font-weight="bold" stroke="#fff" stroke-width="0.29" stroke-linejoin="round" textLength="56.9" lengthAdjust="spacingAndGlyphs" >予測結果</text>
<line x1="655.0" y1="455.8" x2="802.0" y2="455.8" stroke="#dadada" stroke-width="0.8" stroke-dasharray="1.5 1.5"/>
<line x1="655.0" y1="438.2" x2="802.0" y2="438.2" stroke="#dadada" stroke-width="0.8" stroke-dasharray="1.5 1.5"/>
<line x1="655.0" y1="420.6" x2="802.0" y2="420.6" stroke="#dadada" stroke-width="0.8" stroke-dasharray="1.5 1.5"/>
<line x1="659.0" y1="420.6" x2="659.0" y2="473.4" stroke="#ff5050" stroke-width="1.1" stroke-dasharray="1.2 1.2"/>
<line x1="666.9" y1="420.6" x2="666.9" y2="473.4" stroke="#e0e0e0" stroke-width="0.8" stroke-dasharray="1.5 1.5"/>
<line x1="674.8" y1="420.6" x2="674.8" y2="473.4" stroke="#e0e0e0" stroke-width="0.8" stroke-dasharray="1.5 1.5"/>
<line x1="682.7" y1="420.6" x2="682.7" y2="473.4" stroke="#e0e0e0" stroke-width="0.8" stroke-dasharray="1.5 1.5"/>
<line x1="690.6" y1="420.6" x2="690.6" y2="473.4" stroke="#e0e0e0" stroke-width="0.8" stroke-dasharray="1.5 1.5"/>
<line x1="698.5" y1="420.6" x2="698.5" y2="473.4" stroke="#404040" stroke-width="0.9" stroke-dasharray="1.2 1.2"/>
<line x1="706.4" y1="420.6" x2="706.4" y2="473.4" stroke="#e0e0e0" stroke-width="0.8" stroke-dasharray="1.5 1.5"/>
<line x1="714.3" y1="420.6" x2="714.3" y2="473.4" stroke="#e0e0e0" stroke-width="0.8" stroke-dasharray="1.5 1.5"/>
<line x1="722.2" y1="420.6" x2="722.2" y2="473.4" stroke="#e0e0e0" stroke-width="0.8" stroke-dasharray="1.5 1.5"/>
<line x1="730.1" y1="420.6" x2="730.1" y2="473.4" stroke="#e0e0e0" stroke-width="0.8" stroke-dasharray="1.5 1.5"/>
<line x1="738.0" y1="420.6" x2="738.0" y2="473.4" stroke="#e0e0e0" stroke-width="0.8" stroke-dasharray="1.5 1.5"/>
<line x1="745.9" y1="420.6" x2="745.9" y2="473.4" stroke="#e0e0e0" stroke-width="0.8" stroke-dasharray="1.5 1.5"/>
<line x1="753.8" y1="420.6" x2="753.8" y2="473.4" stroke="#e0e0e0" stroke-width="0.8" stroke-dasharray="1.5 1.5"/>
<line x1="761.7" y1="420.6" x2="761.7" y2="473.4" stroke="#e0e0e0" stroke-width="0.8" stroke-dasharray="1.5 1.5"/>
<line x1="769.6" y1="420.6" x2="769.6" y2="473.4" stroke="#e0e0e0" stroke-width="0.8" stroke-dasharray="1.5 1.5"/>
<line x1="777.5" y1="420.6" x2="777.5" y2="473.4" stroke="#e0e0e0" stroke-width="0.8" stroke-dasharray="1.5 1.5"/>
<line x1="785.4" y1="420.6" x2="785.4" y2="473.4" stroke="#e0e0e0" stroke-width="0.8" stroke-dasharray="1.5 1.5"/>
<line x1="793.3" y1="420.6" x2="793.3" y2="473.4" stroke="#404040" stroke-width="0.9" stroke-dasharray="1.2 1.2"/>
<line x1="655.0" y1="473.4" x2="802.0" y2="473.4" stroke="#86867a" stroke-width="1.4"/>
<line x1="659.0" y1="473.4" x2="659.0" y2="476.9" stroke="#86867a" stroke-width="1"/>
<line x1="666.9" y1="473.4" x2="666.9" y2="476.9" stroke="#86867a" stroke-width="1"/>
<line x1="674.8" y1="473.4" x2="674.8" y2="476.9" stroke="#86867a" stroke-width="1"/>
<line x1="682.7" y1="473.4" x2="682.7" y2="476.9" stroke="#86867a" stroke-width="1"/>
<line x1="690.6" y1="473.4" x2="690.6" y2="476.9" stroke="#86867a" stroke-width="1"/>
<line x1="698.5" y1="473.4" x2="698.5" y2="476.9" stroke="#86867a" stroke-width="1"/>
<line x1="706.4" y1="473.4" x2="706.4" y2="476.9" stroke="#86867a" stroke-width="1"/>
<line x1="714.3" y1="473.4" x2="714.3" y2="476.9" stroke="#86867a" stroke-width="1"/>
<line x1="722.2" y1="473.4" x2="722.2" y2="476.9" stroke="#86867a" stroke-width="1"/>
<line x1="730.1" y1="473.4" x2="730.1" y2="476.9" stroke="#86867a" stroke-width="1"/>
<line x1="738.0" y1="473.4" x2="738.0" y2="476.9" stroke="#86867a" stroke-width="1"/>
<line x1="745.9" y1="473.4" x2="745.9" y2="476.9" stroke="#86867a" stroke-width="1"/>
<line x1="753.8" y1="473.4" x2="753.8" y2="476.9" stroke="#86867a" stroke-width="1"/>
<line x1="761.7" y1="473.4" x2="761.7" y2="476.9" stroke="#86867a" stroke-width="1"/>
<line x1="769.6" y1="473.4" x2="769.6" y2="476.9" stroke="#86867a" stroke-width="1"/>
<line x1="777.5" y1="473.4" x2="777.5" y2="476.9" stroke="#86867a" stroke-width="1"/>
<line x1="785.4" y1="473.4" x2="785.4" y2="476.9" stroke="#86867a" stroke-width="1"/>
<line x1="793.3" y1="473.4" x2="793.3" y2="476.9" stroke="#86867a" stroke-width="1"/>
<polyline fill="none" stroke="#ff2020" stroke-width="0.9" points="659.0,439.8 666.9,453.8 674.8,450.5 682.7,454.8 690.6,443.1 698.5,454.6 706.4,456.1 714.3,450.9 722.2,444.4 730.1,454.2 738.0,455.5 745.9,449.2 753.8,439.8 761.7,453.8 769.6,450.5 777.5,454.8 785.4,443.1 793.3,454.6"/>
<rect x="657.5" y="438.3" width="3" height="3" fill="#ff1a1a"/>
<rect x="665.4" y="452.3" width="3" height="3" fill="#ff1a1a"/>
<rect x="673.3" y="449.0" width="3" height="3" fill="#ff1a1a"/>
<rect x="681.2" y="453.3" width="3" height="3" fill="#ff1a1a"/>
<rect x="689.1" y="441.6" width="3" height="3" fill="#ff1a1a"/>
<rect x="697.0" y="453.1" width="3" height="3" fill="#ff1a1a"/>
<rect x="704.9" y="454.6" width="3" height="3" fill="#ff1a1a"/>
<rect x="712.8" y="449.4" width="3" height="3" fill="#ff1a1a"/>
<rect x="720.7" y="442.9" width="3" height="3" fill="#ff1a1a"/>
<rect x="728.6" y="452.7" width="3" height="3" fill="#ff1a1a"/>
<rect x="736.5" y="454.0" width="3" height="3" fill="#ff1a1a"/>
<rect x="744.4" y="447.7" width="3" height="3" fill="#ff1a1a"/>
<rect x="752.3" y="438.3" width="3" height="3" fill="#ff1a1a"/>
<rect x="760.2" y="452.3" width="3" height="3" fill="#ff1a1a"/>
<rect x="768.1" y="449.0" width="3" height="3" fill="#ff1a1a"/>
<rect x="776.0" y="453.3" width="3" height="3" fill="#ff1a1a"/>
<rect x="783.9" y="441.6" width="3" height="3" fill="#ff1a1a"/>
<rect x="791.8" y="453.1" width="3" height="3" fill="#ff1a1a"/>
<rect x="657.5" y="447.5" width="3" height="3" fill="#111"/>
<rect x="659.3" y="404.8" width="76.5" height="13.9" fill="#F9C8A4" stroke="#1F3D7A" stroke-width="1.5"/>
<text x="667.3" y="416.7" font-size="13.5" fill="#707070" font-weight="bold" stroke="#707070" stroke-width="0.20" stroke-linejoin="round" textLength="61.5" lengthAdjust="spacingAndGlyphs" >Model-8</text>
<rect x="660.7" y="425" width="136.5" height="42.2" rx="8" fill="none" stroke="#4BB4C8" stroke-width="3.8"/>
<line x1="492.3" y1="445.6" x2="657" y2="445.6" stroke="#4BB4C8" stroke-width="3"/>
<polyline points="651,439 658.5,445.6 651,452.2" fill="none" stroke="#4BB4C8" stroke-width="3"/>
<path d="M 550.2,201.5 L 872,201.5 A 26 26 0 0 1 898,227.5 L 898,338 A 26 26 0 0 1 872,364 L 679.6,364 L 569,400.3 L 587,364 L 550.2,364 A 26 26 0 0 1 524.2,338 L 524.2,227.5 A 26 26 0 0 1 550.2,201.5 Z" fill="url(#gBub)" stroke="#41B4C8" stroke-width="3.2" stroke-linejoin="round" filter="url(#sh)"/>
<text x="542.1" y="230.3" font-size="15.8" fill="#FF0000" font-weight="bold" stroke="#FF0000" stroke-width="0.20" stroke-linejoin="round" textLength="34.6" lengthAdjust="spacingAndGlyphs" >DFC</text>
<text x="577.5" y="230.0" font-size="15" fill="#FF0000" font-weight="bold" stroke="#FF0000" stroke-width="0.30" stroke-linejoin="round" textLength="52.0" lengthAdjust="spacingAndGlyphs" >システム</text>
<text x="553.3" y="249.6" font-size="13.2" fill="#FF0000" font-weight="bold" stroke="#FF0000" stroke-width="0.20" stroke-linejoin="round" textLength="323.0" lengthAdjust="spacingAndGlyphs" >= Dynamic Forecast Model Change System</text>
<text x="541.0" y="286.6" font-size="13.5" fill="#1a1a1a" font-weight="bold" stroke="#1a1a1a" stroke-width="0.27" stroke-linejoin="round" textLength="266.7" lengthAdjust="spacingAndGlyphs" >常に複数の予測モデルを実行・評価し、</text>
<text x="541.0" y="306.1" font-size="13.5" fill="#1a1a1a" font-weight="bold" stroke="#1a1a1a" stroke-width="0.27" stroke-linejoin="round" textLength="339.0" lengthAdjust="spacingAndGlyphs" >直近で最も精度の高い予測モデルを自動選択する</text>
<text x="551.9" y="326.6" font-size="13.5" fill="#1a1a1a" font-weight="bold" stroke="#1a1a1a" stroke-width="0.27" stroke-linejoin="round" textLength="15.6" lengthAdjust="spacingAndGlyphs" >⇒</text>
<text x="574.8" y="326.6" font-size="13.5" fill="#1a1a1a" font-weight="bold" stroke="#1a1a1a" stroke-width="0.27" stroke-linejoin="round" textLength="274.8" lengthAdjust="spacingAndGlyphs" >製品の需要特性変化に柔軟に対応可能</text>
<text x="551.9" y="346.0" font-size="13.5" fill="#1a1a1a" font-weight="bold" stroke="#1a1a1a" stroke-width="0.27" stroke-linejoin="round" textLength="15.6" lengthAdjust="spacingAndGlyphs" >⇒</text>
<text x="574.8" y="346.0" font-size="13.5" fill="#1a1a1a" font-weight="bold" stroke="#1a1a1a" stroke-width="0.27" stroke-linejoin="round" textLength="269.4" lengthAdjust="spacingAndGlyphs" >予測モデルのメンテナンスがほとんど不要</text>
<ellipse cx="578.8" cy="506.5" rx="74" ry="40" fill="#47B9CC" stroke="#2A8799" stroke-width="1.5"/>
<text x="530.0" y="491.9" font-size="14.5" fill="#fff" font-weight="bold" stroke="#fff" stroke-width="0.29" stroke-linejoin="round" textLength="95.8" lengthAdjust="spacingAndGlyphs" >③評価期間で</text>
<text x="513.5" y="511.9" font-size="14.5" fill="#fff" font-weight="bold" stroke="#fff" stroke-width="0.29" stroke-linejoin="round" textLength="129.2" lengthAdjust="spacingAndGlyphs" >予測誤差が最小の</text>
<text x="517.7" y="531.8" font-size="14.5" fill="#fff" font-weight="bold" stroke="#fff" stroke-width="0.29" stroke-linejoin="round" textLength="121.5" lengthAdjust="spacingAndGlyphs" >モデル結果を採用</text>
</svg></body></html>
